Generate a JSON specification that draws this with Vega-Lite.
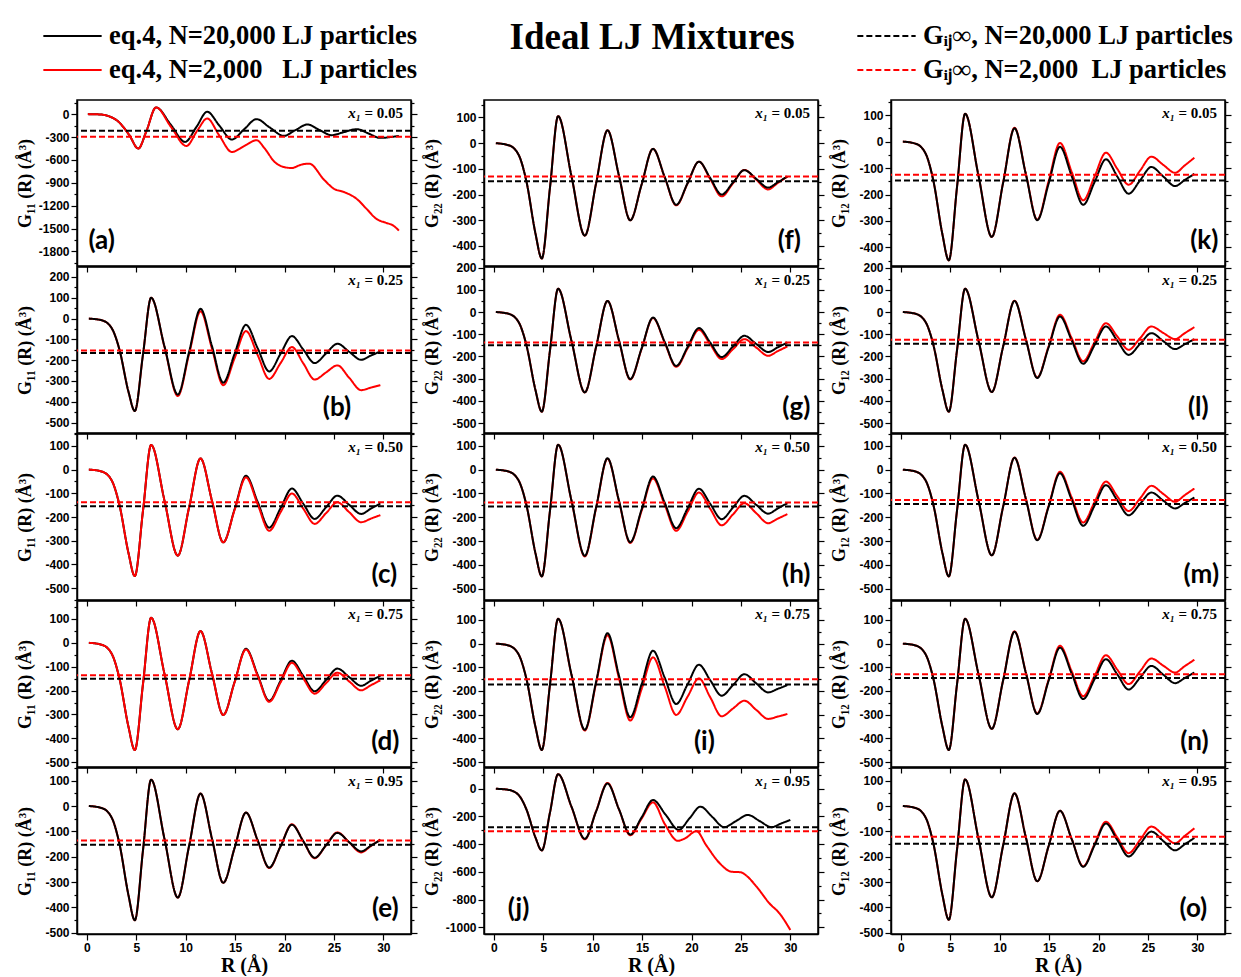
{
"$schema":"https://vega.github.io/schema/vega-lite/v6.json",
"padding":{"left":15,"top":19,"right":5,"bottom":0},
"title":{"text":"Ideal LJ Mixtures","font":"Liberation Serif","fontSize":37,"fontWeight":"bold","color":"black","anchor":"middle","frame":"bounds","offset":20,"dy":56,"dx":28},
"data":{"values":[
{"p":"a","s":"a1","R":0.1,"G":0},{"p":"a","s":"a1","R":1.3,"G":-4},{"p":"a","s":"a1","R":3,"G":-79},{"p":"a","s":"a1","R":4.3,"G":-276},{"p":"a","s":"a1","R":5.2,"G":-452},{"p":"a","s":"a1","R":6,"G":-232},{"p":"a","s":"a1","R":7,"G":88},{"p":"a","s":"a1","R":8.5,"G":-140},{"p":"a","s":"a1","R":9.93,"G":-364},{"p":"a","s":"a1","R":11.1,"G":-165},{"p":"a","s":"a1","R":12.17,"G":31},{"p":"a","s":"a1","R":13.4,"G":-150},{"p":"a","s":"a1","R":14.67,"G":-333},{"p":"a","s":"a1","R":15.9,"G":-200},{"p":"a","s":"a1","R":17.17,"G":-66},{"p":"a","s":"a1","R":18.5,"G":-175},{"p":"a","s":"a1","R":19.93,"G":-285},{"p":"a","s":"a1","R":21.1,"G":-210},{"p":"a","s":"a1","R":22.33,"G":-136},{"p":"a","s":"a1","R":23.5,"G":-206},{"p":"a","s":"a1","R":24.77,"G":-276},{"p":"a","s":"a1","R":26,"G":-236},{"p":"a","s":"a1","R":27.33,"G":-197},{"p":"a","s":"a1","R":28.5,"G":-254},{"p":"a","s":"a1","R":29.67,"G":-311},{"p":"a","s":"a1","R":31.57,"G":-285},
{"p":"a","s":"b1","R":0.1,"G":0},{"p":"a","s":"b1","R":1.3,"G":-4},{"p":"a","s":"b1","R":3,"G":-79},{"p":"a","s":"b1","R":4.3,"G":-276},{"p":"a","s":"b1","R":5.2,"G":-452},{"p":"a","s":"b1","R":6,"G":-232},{"p":"a","s":"b1","R":7,"G":88},{"p":"a","s":"b1","R":8.5,"G":-165},{"p":"a","s":"b1","R":10.07,"G":-417},{"p":"a","s":"b1","R":11.2,"G":-210},{"p":"a","s":"b1","R":12.17,"G":-57},{"p":"a","s":"b1","R":13.4,"G":-280},{"p":"a","s":"b1","R":14.67,"G":-496},{"p":"a","s":"b1","R":15.9,"G":-420},{"p":"a","s":"b1","R":17.17,"G":-342},{"p":"a","s":"b1","R":18,"G":-452},{"p":"a","s":"b1","R":19,"G":-627},{"p":"a","s":"b1","R":19.93,"G":-693},{"p":"a","s":"b1","R":20.7,"G":-706},{"p":"a","s":"b1","R":21.7,"G":-662},{"p":"a","s":"b1","R":22.5,"G":-649},{"p":"a","s":"b1","R":24,"G":-860},{"p":"a","s":"b1","R":25,"G":-978},{"p":"a","s":"b1","R":26,"G":-1020},{"p":"a","s":"b1","R":27.3,"G":-1110},{"p":"a","s":"b1","R":28.3,"G":-1241},{"p":"a","s":"b1","R":29.3,"G":-1373},{"p":"a","s":"b1","R":30.3,"G":-1425},{"p":"a","s":"b1","R":31,"G":-1460},{"p":"a","s":"b1","R":31.57,"G":-1526},
{"p":"b","s":"a1","R":0.2,"G":0},{"p":"b","s":"a1","R":1.5,"G":-8},{"p":"b","s":"a1","R":2.5,"G":-45},{"p":"b","s":"a1","R":3.3,"G":-150},{"p":"b","s":"a1","R":4.2,"G":-350},{"p":"b","s":"a1","R":4.85,"G":-444},{"p":"b","s":"a1","R":5.68,"G":-172},{"p":"b","s":"a1","R":6.5,"G":100},{"p":"b","s":"a1","R":7.85,"G":-133},{"p":"b","s":"a1","R":9.2,"G":-365},{"p":"b","s":"a1","R":10.35,"G":-159},{"p":"b","s":"a1","R":11.5,"G":47},{"p":"b","s":"a1","R":12.65,"G":-131},{"p":"b","s":"a1","R":13.8,"G":-308},{"p":"b","s":"a1","R":14.95,"G":-169},{"p":"b","s":"a1","R":16.1,"G":-30},{"p":"b","s":"a1","R":17.28,"G":-142},{"p":"b","s":"a1","R":18.45,"G":-254},{"p":"b","s":"a1","R":19.6,"G":-169},{"p":"b","s":"a1","R":20.75,"G":-84},{"p":"b","s":"a1","R":21.9,"G":-149},{"p":"b","s":"a1","R":23.05,"G":-214},{"p":"b","s":"a1","R":24.2,"G":-168},{"p":"b","s":"a1","R":25.35,"G":-121},{"p":"b","s":"a1","R":26.55,"G":-160},{"p":"b","s":"a1","R":27.75,"G":-198},{"p":"b","s":"a1","R":28.73,"G":-178},{"p":"b","s":"a1","R":29.7,"G":-158},
{"p":"b","s":"b1","R":0.2,"G":0},{"p":"b","s":"b1","R":1.5,"G":-8},{"p":"b","s":"b1","R":2.5,"G":-45},{"p":"b","s":"b1","R":3.3,"G":-150},{"p":"b","s":"b1","R":4.2,"G":-350},{"p":"b","s":"b1","R":4.85,"G":-444},{"p":"b","s":"b1","R":5.68,"G":-172},{"p":"b","s":"b1","R":6.5,"G":100},{"p":"b","s":"b1","R":7.85,"G":-136},{"p":"b","s":"b1","R":9.2,"G":-372},{"p":"b","s":"b1","R":10.35,"G":-169},{"p":"b","s":"b1","R":11.5,"G":35},{"p":"b","s":"b1","R":12.65,"G":-143},{"p":"b","s":"b1","R":13.8,"G":-320},{"p":"b","s":"b1","R":14.95,"G":-190},{"p":"b","s":"b1","R":16.1,"G":-60},{"p":"b","s":"b1","R":17.28,"G":-175},{"p":"b","s":"b1","R":18.45,"G":-290},{"p":"b","s":"b1","R":19.6,"G":-214},{"p":"b","s":"b1","R":20.75,"G":-137},{"p":"b","s":"b1","R":21.9,"G":-215},{"p":"b","s":"b1","R":23.05,"G":-293},{"p":"b","s":"b1","R":24.2,"G":-259},{"p":"b","s":"b1","R":25.35,"G":-225},{"p":"b","s":"b1","R":26.55,"G":-285},{"p":"b","s":"b1","R":27.75,"G":-344},{"p":"b","s":"b1","R":28.73,"G":-332},{"p":"b","s":"b1","R":29.7,"G":-320},
{"p":"c","s":"a1","R":0.2,"G":0},{"p":"c","s":"a1","R":1.5,"G":-8},{"p":"c","s":"a1","R":2.5,"G":-45},{"p":"c","s":"a1","R":3.3,"G":-150},{"p":"c","s":"a1","R":4.2,"G":-350},{"p":"c","s":"a1","R":4.85,"G":-449},{"p":"c","s":"a1","R":5.68,"G":-173},{"p":"c","s":"a1","R":6.5,"G":104},{"p":"c","s":"a1","R":7.85,"G":-130},{"p":"c","s":"a1","R":9.2,"G":-363},{"p":"c","s":"a1","R":10.35,"G":-158},{"p":"c","s":"a1","R":11.5,"G":47},{"p":"c","s":"a1","R":12.65,"G":-130},{"p":"c","s":"a1","R":13.8,"G":-307},{"p":"c","s":"a1","R":14.95,"G":-167},{"p":"c","s":"a1","R":16.1,"G":-26},{"p":"c","s":"a1","R":17.28,"G":-136},{"p":"c","s":"a1","R":18.45,"G":-245},{"p":"c","s":"a1","R":19.6,"G":-163},{"p":"c","s":"a1","R":20.75,"G":-80},{"p":"c","s":"a1","R":21.9,"G":-144},{"p":"c","s":"a1","R":23.05,"G":-208},{"p":"c","s":"a1","R":24.2,"G":-159},{"p":"c","s":"a1","R":25.35,"G":-110},{"p":"c","s":"a1","R":26.55,"G":-149},{"p":"c","s":"a1","R":27.75,"G":-187},{"p":"c","s":"a1","R":28.73,"G":-165},{"p":"c","s":"a1","R":29.7,"G":-143},
{"p":"c","s":"b1","R":0.2,"G":0},{"p":"c","s":"b1","R":1.5,"G":-8},{"p":"c","s":"b1","R":2.5,"G":-45},{"p":"c","s":"b1","R":3.3,"G":-150},{"p":"c","s":"b1","R":4.2,"G":-350},{"p":"c","s":"b1","R":4.85,"G":-449},{"p":"c","s":"b1","R":5.68,"G":-173},{"p":"c","s":"b1","R":6.5,"G":104},{"p":"c","s":"b1","R":7.85,"G":-130},{"p":"c","s":"b1","R":9.2,"G":-363},{"p":"c","s":"b1","R":10.35,"G":-158},{"p":"c","s":"b1","R":11.5,"G":47},{"p":"c","s":"b1","R":12.65,"G":-130},{"p":"c","s":"b1","R":13.8,"G":-307},{"p":"c","s":"b1","R":14.95,"G":-170},{"p":"c","s":"b1","R":16.1,"G":-33},{"p":"c","s":"b1","R":17.28,"G":-146},{"p":"c","s":"b1","R":18.45,"G":-258},{"p":"c","s":"b1","R":19.6,"G":-180},{"p":"c","s":"b1","R":20.75,"G":-101},{"p":"c","s":"b1","R":21.9,"G":-165},{"p":"c","s":"b1","R":23.05,"G":-229},{"p":"c","s":"b1","R":24.2,"G":-184},{"p":"c","s":"b1","R":25.35,"G":-138},{"p":"c","s":"b1","R":26.55,"G":-180},{"p":"c","s":"b1","R":27.75,"G":-222},{"p":"c","s":"b1","R":28.73,"G":-207},{"p":"c","s":"b1","R":29.7,"G":-192},
{"p":"d","s":"a1","R":0.2,"G":0},{"p":"d","s":"a1","R":1.5,"G":-8},{"p":"d","s":"a1","R":2.5,"G":-45},{"p":"d","s":"a1","R":3.3,"G":-150},{"p":"d","s":"a1","R":4.2,"G":-350},{"p":"d","s":"a1","R":4.85,"G":-449},{"p":"d","s":"a1","R":5.68,"G":-172},{"p":"d","s":"a1","R":6.5,"G":105},{"p":"d","s":"a1","R":7.85,"G":-129},{"p":"d","s":"a1","R":9.2,"G":-362},{"p":"d","s":"a1","R":10.35,"G":-157},{"p":"d","s":"a1","R":11.5,"G":49},{"p":"d","s":"a1","R":12.65,"G":-127},{"p":"d","s":"a1","R":13.8,"G":-302},{"p":"d","s":"a1","R":14.95,"G":-164},{"p":"d","s":"a1","R":16.1,"G":-25},{"p":"d","s":"a1","R":17.28,"G":-134},{"p":"d","s":"a1","R":18.45,"G":-243},{"p":"d","s":"a1","R":19.6,"G":-159},{"p":"d","s":"a1","R":20.75,"G":-75},{"p":"d","s":"a1","R":21.9,"G":-139},{"p":"d","s":"a1","R":23.05,"G":-203},{"p":"d","s":"a1","R":24.2,"G":-156},{"p":"d","s":"a1","R":25.35,"G":-108},{"p":"d","s":"a1","R":26.55,"G":-144},{"p":"d","s":"a1","R":27.75,"G":-180},{"p":"d","s":"a1","R":28.73,"G":-159},{"p":"d","s":"a1","R":29.7,"G":-138},
{"p":"d","s":"b1","R":0.2,"G":0},{"p":"d","s":"b1","R":1.5,"G":-8},{"p":"d","s":"b1","R":2.5,"G":-45},{"p":"d","s":"b1","R":3.3,"G":-150},{"p":"d","s":"b1","R":4.2,"G":-350},{"p":"d","s":"b1","R":4.85,"G":-449},{"p":"d","s":"b1","R":5.68,"G":-172},{"p":"d","s":"b1","R":6.5,"G":105},{"p":"d","s":"b1","R":7.85,"G":-129},{"p":"d","s":"b1","R":9.2,"G":-362},{"p":"d","s":"b1","R":10.35,"G":-157},{"p":"d","s":"b1","R":11.5,"G":49},{"p":"d","s":"b1","R":12.65,"G":-127},{"p":"d","s":"b1","R":13.8,"G":-302},{"p":"d","s":"b1","R":14.95,"G":-165},{"p":"d","s":"b1","R":16.1,"G":-28},{"p":"d","s":"b1","R":17.28,"G":-138},{"p":"d","s":"b1","R":18.45,"G":-247},{"p":"d","s":"b1","R":19.6,"G":-166},{"p":"d","s":"b1","R":20.75,"G":-84},{"p":"d","s":"b1","R":21.9,"G":-149},{"p":"d","s":"b1","R":23.05,"G":-213},{"p":"d","s":"b1","R":24.2,"G":-169},{"p":"d","s":"b1","R":25.35,"G":-125},{"p":"d","s":"b1","R":26.55,"G":-162},{"p":"d","s":"b1","R":27.75,"G":-199},{"p":"d","s":"b1","R":28.73,"G":-178},{"p":"d","s":"b1","R":29.7,"G":-157},
{"p":"e","s":"a1","R":0.2,"G":0},{"p":"e","s":"a1","R":1.5,"G":-8},{"p":"e","s":"a1","R":2.5,"G":-45},{"p":"e","s":"a1","R":3.3,"G":-150},{"p":"e","s":"a1","R":4.2,"G":-350},{"p":"e","s":"a1","R":4.85,"G":-451},{"p":"e","s":"a1","R":5.68,"G":-174},{"p":"e","s":"a1","R":6.5,"G":104},{"p":"e","s":"a1","R":7.85,"G":-129},{"p":"e","s":"a1","R":9.2,"G":-361},{"p":"e","s":"a1","R":10.35,"G":-156},{"p":"e","s":"a1","R":11.5,"G":49},{"p":"e","s":"a1","R":12.65,"G":-127},{"p":"e","s":"a1","R":13.8,"G":-303},{"p":"e","s":"a1","R":14.95,"G":-165},{"p":"e","s":"a1","R":16.1,"G":-26},{"p":"e","s":"a1","R":17.28,"G":-135},{"p":"e","s":"a1","R":18.45,"G":-243},{"p":"e","s":"a1","R":19.6,"G":-159},{"p":"e","s":"a1","R":20.75,"G":-74},{"p":"e","s":"a1","R":21.9,"G":-139},{"p":"e","s":"a1","R":23.05,"G":-204},{"p":"e","s":"a1","R":24.2,"G":-155},{"p":"e","s":"a1","R":25.35,"G":-106},{"p":"e","s":"a1","R":26.55,"G":-143},{"p":"e","s":"a1","R":27.75,"G":-179},{"p":"e","s":"a1","R":28.73,"G":-157},{"p":"e","s":"a1","R":29.7,"G":-134},
{"p":"e","s":"b1","R":0.2,"G":0},{"p":"e","s":"b1","R":1.5,"G":-8},{"p":"e","s":"b1","R":2.5,"G":-45},{"p":"e","s":"b1","R":3.3,"G":-150},{"p":"e","s":"b1","R":4.2,"G":-350},{"p":"e","s":"b1","R":4.85,"G":-451},{"p":"e","s":"b1","R":5.68,"G":-174},{"p":"e","s":"b1","R":6.5,"G":104},{"p":"e","s":"b1","R":7.85,"G":-129},{"p":"e","s":"b1","R":9.2,"G":-361},{"p":"e","s":"b1","R":10.35,"G":-156},{"p":"e","s":"b1","R":11.5,"G":49},{"p":"e","s":"b1","R":12.65,"G":-127},{"p":"e","s":"b1","R":13.8,"G":-303},{"p":"e","s":"b1","R":14.95,"G":-165},{"p":"e","s":"b1","R":16.1,"G":-26},{"p":"e","s":"b1","R":17.28,"G":-136},{"p":"e","s":"b1","R":18.45,"G":-245},{"p":"e","s":"b1","R":19.6,"G":-159},{"p":"e","s":"b1","R":20.75,"G":-72},{"p":"e","s":"b1","R":21.9,"G":-139},{"p":"e","s":"b1","R":23.05,"G":-206},{"p":"e","s":"b1","R":24.2,"G":-155},{"p":"e","s":"b1","R":25.35,"G":-104},{"p":"e","s":"b1","R":26.55,"G":-144},{"p":"e","s":"b1","R":27.75,"G":-183},{"p":"e","s":"b1","R":28.73,"G":-158},{"p":"e","s":"b1","R":29.7,"G":-132},
{"p":"f","s":"a1","R":0.2,"G":0},{"p":"f","s":"a1","R":1.5,"G":-8},{"p":"f","s":"a1","R":2.5,"G":-45},{"p":"f","s":"a1","R":3.3,"G":-150},{"p":"f","s":"a1","R":4.2,"G":-350},{"p":"f","s":"a1","R":4.85,"G":-449},{"p":"f","s":"a1","R":5.68,"G":-172},{"p":"f","s":"a1","R":6.5,"G":105},{"p":"f","s":"a1","R":7.85,"G":-128},{"p":"f","s":"a1","R":9.2,"G":-360},{"p":"f","s":"a1","R":10.35,"G":-155},{"p":"f","s":"a1","R":11.5,"G":50},{"p":"f","s":"a1","R":12.65,"G":-125},{"p":"f","s":"a1","R":13.8,"G":-300},{"p":"f","s":"a1","R":14.95,"G":-161},{"p":"f","s":"a1","R":16.1,"G":-22},{"p":"f","s":"a1","R":17.28,"G":-131},{"p":"f","s":"a1","R":18.45,"G":-240},{"p":"f","s":"a1","R":19.6,"G":-156},{"p":"f","s":"a1","R":20.75,"G":-72},{"p":"f","s":"a1","R":21.9,"G":-136},{"p":"f","s":"a1","R":23.05,"G":-200},{"p":"f","s":"a1","R":24.2,"G":-153},{"p":"f","s":"a1","R":25.35,"G":-105},{"p":"f","s":"a1","R":26.55,"G":-139},{"p":"f","s":"a1","R":27.75,"G":-173},{"p":"f","s":"a1","R":28.73,"G":-152},{"p":"f","s":"a1","R":29.7,"G":-130},
{"p":"f","s":"b1","R":0.2,"G":0},{"p":"f","s":"b1","R":1.5,"G":-8},{"p":"f","s":"b1","R":2.5,"G":-45},{"p":"f","s":"b1","R":3.3,"G":-150},{"p":"f","s":"b1","R":4.2,"G":-350},{"p":"f","s":"b1","R":4.85,"G":-449},{"p":"f","s":"b1","R":5.68,"G":-172},{"p":"f","s":"b1","R":6.5,"G":105},{"p":"f","s":"b1","R":7.85,"G":-128},{"p":"f","s":"b1","R":9.2,"G":-360},{"p":"f","s":"b1","R":10.35,"G":-155},{"p":"f","s":"b1","R":11.5,"G":50},{"p":"f","s":"b1","R":12.65,"G":-125},{"p":"f","s":"b1","R":13.8,"G":-300},{"p":"f","s":"b1","R":14.95,"G":-161},{"p":"f","s":"b1","R":16.1,"G":-22},{"p":"f","s":"b1","R":17.28,"G":-132},{"p":"f","s":"b1","R":18.45,"G":-242},{"p":"f","s":"b1","R":19.6,"G":-157},{"p":"f","s":"b1","R":20.75,"G":-72},{"p":"f","s":"b1","R":21.9,"G":-140},{"p":"f","s":"b1","R":23.05,"G":-207},{"p":"f","s":"b1","R":24.2,"G":-156},{"p":"f","s":"b1","R":25.35,"G":-104},{"p":"f","s":"b1","R":26.55,"G":-142},{"p":"f","s":"b1","R":27.75,"G":-180},{"p":"f","s":"b1","R":28.73,"G":-155},{"p":"f","s":"b1","R":29.7,"G":-130},
{"p":"g","s":"a1","R":0.2,"G":0},{"p":"g","s":"a1","R":1.5,"G":-8},{"p":"g","s":"a1","R":2.5,"G":-45},{"p":"g","s":"a1","R":3.3,"G":-150},{"p":"g","s":"a1","R":4.2,"G":-350},{"p":"g","s":"a1","R":4.85,"G":-449},{"p":"g","s":"a1","R":5.68,"G":-172},{"p":"g","s":"a1","R":6.5,"G":105},{"p":"g","s":"a1","R":7.85,"G":-129},{"p":"g","s":"a1","R":9.2,"G":-362},{"p":"g","s":"a1","R":10.35,"G":-156},{"p":"g","s":"a1","R":11.5,"G":50},{"p":"g","s":"a1","R":12.65,"G":-126},{"p":"g","s":"a1","R":13.8,"G":-302},{"p":"g","s":"a1","R":14.95,"G":-164},{"p":"g","s":"a1","R":16.1,"G":-25},{"p":"g","s":"a1","R":17.28,"G":-134},{"p":"g","s":"a1","R":18.45,"G":-243},{"p":"g","s":"a1","R":19.6,"G":-158},{"p":"g","s":"a1","R":20.75,"G":-72},{"p":"g","s":"a1","R":21.9,"G":-138},{"p":"g","s":"a1","R":23.05,"G":-203},{"p":"g","s":"a1","R":24.2,"G":-155},{"p":"g","s":"a1","R":25.35,"G":-107},{"p":"g","s":"a1","R":26.55,"G":-144},{"p":"g","s":"a1","R":27.75,"G":-180},{"p":"g","s":"a1","R":28.73,"G":-159},{"p":"g","s":"a1","R":29.7,"G":-137},
{"p":"g","s":"b1","R":0.2,"G":0},{"p":"g","s":"b1","R":1.5,"G":-8},{"p":"g","s":"b1","R":2.5,"G":-45},{"p":"g","s":"b1","R":3.3,"G":-150},{"p":"g","s":"b1","R":4.2,"G":-350},{"p":"g","s":"b1","R":4.85,"G":-449},{"p":"g","s":"b1","R":5.68,"G":-172},{"p":"g","s":"b1","R":6.5,"G":105},{"p":"g","s":"b1","R":7.85,"G":-129},{"p":"g","s":"b1","R":9.2,"G":-362},{"p":"g","s":"b1","R":10.35,"G":-156},{"p":"g","s":"b1","R":11.5,"G":50},{"p":"g","s":"b1","R":12.65,"G":-127},{"p":"g","s":"b1","R":13.8,"G":-304},{"p":"g","s":"b1","R":14.95,"G":-166},{"p":"g","s":"b1","R":16.1,"G":-27},{"p":"g","s":"b1","R":17.28,"G":-137},{"p":"g","s":"b1","R":18.45,"G":-247},{"p":"g","s":"b1","R":19.6,"G":-164},{"p":"g","s":"b1","R":20.75,"G":-80},{"p":"g","s":"b1","R":21.9,"G":-146},{"p":"g","s":"b1","R":23.05,"G":-212},{"p":"g","s":"b1","R":24.2,"G":-167},{"p":"g","s":"b1","R":25.35,"G":-122},{"p":"g","s":"b1","R":26.55,"G":-160},{"p":"g","s":"b1","R":27.75,"G":-197},{"p":"g","s":"b1","R":28.73,"G":-176},{"p":"g","s":"b1","R":29.7,"G":-155},
{"p":"h","s":"a1","R":0.2,"G":0},{"p":"h","s":"a1","R":1.5,"G":-8},{"p":"h","s":"a1","R":2.5,"G":-45},{"p":"h","s":"a1","R":3.3,"G":-150},{"p":"h","s":"a1","R":4.2,"G":-350},{"p":"h","s":"a1","R":4.85,"G":-449},{"p":"h","s":"a1","R":5.68,"G":-172},{"p":"h","s":"a1","R":6.5,"G":105},{"p":"h","s":"a1","R":7.85,"G":-129},{"p":"h","s":"a1","R":9.2,"G":-362},{"p":"h","s":"a1","R":10.35,"G":-157},{"p":"h","s":"a1","R":11.5,"G":48},{"p":"h","s":"a1","R":12.65,"G":-129},{"p":"h","s":"a1","R":13.8,"G":-305},{"p":"h","s":"a1","R":14.95,"G":-167},{"p":"h","s":"a1","R":16.1,"G":-29},{"p":"h","s":"a1","R":17.28,"G":-138},{"p":"h","s":"a1","R":18.45,"G":-246},{"p":"h","s":"a1","R":19.6,"G":-163},{"p":"h","s":"a1","R":20.75,"G":-80},{"p":"h","s":"a1","R":21.9,"G":-144},{"p":"h","s":"a1","R":23.05,"G":-208},{"p":"h","s":"a1","R":24.2,"G":-159},{"p":"h","s":"a1","R":25.35,"G":-110},{"p":"h","s":"a1","R":26.55,"G":-148},{"p":"h","s":"a1","R":27.75,"G":-185},{"p":"h","s":"a1","R":28.73,"G":-163},{"p":"h","s":"a1","R":29.7,"G":-141},
{"p":"h","s":"b1","R":0.2,"G":0},{"p":"h","s":"b1","R":1.5,"G":-8},{"p":"h","s":"b1","R":2.5,"G":-45},{"p":"h","s":"b1","R":3.3,"G":-150},{"p":"h","s":"b1","R":4.2,"G":-350},{"p":"h","s":"b1","R":4.85,"G":-449},{"p":"h","s":"b1","R":5.68,"G":-172},{"p":"h","s":"b1","R":6.5,"G":105},{"p":"h","s":"b1","R":7.85,"G":-130},{"p":"h","s":"b1","R":9.2,"G":-365},{"p":"h","s":"b1","R":10.35,"G":-160},{"p":"h","s":"b1","R":11.5,"G":46},{"p":"h","s":"b1","R":12.65,"G":-131},{"p":"h","s":"b1","R":13.8,"G":-308},{"p":"h","s":"b1","R":14.95,"G":-173},{"p":"h","s":"b1","R":16.1,"G":-37},{"p":"h","s":"b1","R":17.28,"G":-147},{"p":"h","s":"b1","R":18.45,"G":-257},{"p":"h","s":"b1","R":19.6,"G":-177},{"p":"h","s":"b1","R":20.75,"G":-96},{"p":"h","s":"b1","R":21.9,"G":-165},{"p":"h","s":"b1","R":23.05,"G":-234},{"p":"h","s":"b1","R":24.2,"G":-188},{"p":"h","s":"b1","R":25.35,"G":-141},{"p":"h","s":"b1","R":26.55,"G":-183},{"p":"h","s":"b1","R":27.75,"G":-225},{"p":"h","s":"b1","R":28.73,"G":-206},{"p":"h","s":"b1","R":29.7,"G":-187},
{"p":"i","s":"a1","R":0.2,"G":0},{"p":"i","s":"a1","R":1.5,"G":-8},{"p":"i","s":"a1","R":2.5,"G":-45},{"p":"i","s":"a1","R":3.3,"G":-150},{"p":"i","s":"a1","R":4.2,"G":-350},{"p":"i","s":"a1","R":4.85,"G":-449},{"p":"i","s":"a1","R":5.68,"G":-172},{"p":"i","s":"a1","R":6.5,"G":105},{"p":"i","s":"a1","R":7.85,"G":-130},{"p":"i","s":"a1","R":9.2,"G":-364},{"p":"i","s":"a1","R":10.35,"G":-160},{"p":"i","s":"a1","R":11.5,"G":44},{"p":"i","s":"a1","R":12.65,"G":-134},{"p":"i","s":"a1","R":13.8,"G":-311},{"p":"i","s":"a1","R":14.95,"G":-171},{"p":"i","s":"a1","R":16.1,"G":-30},{"p":"i","s":"a1","R":17.28,"G":-143},{"p":"i","s":"a1","R":18.45,"G":-255},{"p":"i","s":"a1","R":19.6,"G":-172},{"p":"i","s":"a1","R":20.75,"G":-89},{"p":"i","s":"a1","R":21.9,"G":-155},{"p":"i","s":"a1","R":23.05,"G":-220},{"p":"i","s":"a1","R":24.2,"G":-175},{"p":"i","s":"a1","R":25.35,"G":-129},{"p":"i","s":"a1","R":26.55,"G":-168},{"p":"i","s":"a1","R":27.75,"G":-206},{"p":"i","s":"a1","R":28.73,"G":-191},{"p":"i","s":"a1","R":29.7,"G":-175},
{"p":"i","s":"b1","R":0.2,"G":0},{"p":"i","s":"b1","R":1.5,"G":-8},{"p":"i","s":"b1","R":2.5,"G":-45},{"p":"i","s":"b1","R":3.3,"G":-150},{"p":"i","s":"b1","R":4.2,"G":-350},{"p":"i","s":"b1","R":4.85,"G":-449},{"p":"i","s":"b1","R":5.68,"G":-172},{"p":"i","s":"b1","R":6.5,"G":105},{"p":"i","s":"b1","R":7.85,"G":-131},{"p":"i","s":"b1","R":9.2,"G":-367},{"p":"i","s":"b1","R":10.35,"G":-166},{"p":"i","s":"b1","R":11.5,"G":35},{"p":"i","s":"b1","R":12.65,"G":-145},{"p":"i","s":"b1","R":13.8,"G":-325},{"p":"i","s":"b1","R":14.95,"G":-192},{"p":"i","s":"b1","R":16.1,"G":-58},{"p":"i","s":"b1","R":17.28,"G":-180},{"p":"i","s":"b1","R":18.45,"G":-301},{"p":"i","s":"b1","R":19.6,"G":-224},{"p":"i","s":"b1","R":20.75,"G":-147},{"p":"i","s":"b1","R":21.9,"G":-227},{"p":"i","s":"b1","R":23.05,"G":-307},{"p":"i","s":"b1","R":24.2,"G":-274},{"p":"i","s":"b1","R":25.35,"G":-241},{"p":"i","s":"b1","R":26.55,"G":-280},{"p":"i","s":"b1","R":27.75,"G":-318},{"p":"i","s":"b1","R":28.73,"G":-308},{"p":"i","s":"b1","R":29.7,"G":-297},
{"p":"j","s":"a1","R":0.2,"G":0},{"p":"j","s":"a1","R":1.5,"G":-8},{"p":"j","s":"a1","R":2.5,"G":-45},{"p":"j","s":"a1","R":3.3,"G":-150},{"p":"j","s":"a1","R":4.2,"G":-350},{"p":"j","s":"a1","R":4.85,"G":-445},{"p":"j","s":"a1","R":5.68,"G":-170},{"p":"j","s":"a1","R":6.5,"G":105},{"p":"j","s":"a1","R":7.85,"G":-128},{"p":"j","s":"a1","R":9.2,"G":-361},{"p":"j","s":"a1","R":10.35,"G":-162},{"p":"j","s":"a1","R":11.5,"G":38},{"p":"j","s":"a1","R":12.65,"G":-146},{"p":"j","s":"a1","R":13.8,"G":-330},{"p":"j","s":"a1","R":14.95,"G":-206},{"p":"j","s":"a1","R":16.1,"G":-81},{"p":"j","s":"a1","R":17.4,"G":-189},{"p":"j","s":"a1","R":18.7,"G":-297},{"p":"j","s":"a1","R":19.8,"G":-213},{"p":"j","s":"a1","R":20.9,"G":-129},{"p":"j","s":"a1","R":22.1,"G":-203},{"p":"j","s":"a1","R":23.3,"G":-277},{"p":"j","s":"a1","R":24.5,"G":-233},{"p":"j","s":"a1","R":25.7,"G":-189},{"p":"j","s":"a1","R":26.9,"G":-233},{"p":"j","s":"a1","R":28.1,"G":-277},{"p":"j","s":"a1","R":29.05,"G":-251},{"p":"j","s":"a1","R":30,"G":-225},
{"p":"j","s":"b1","R":0.2,"G":0},{"p":"j","s":"b1","R":1.5,"G":-8},{"p":"j","s":"b1","R":2.5,"G":-45},{"p":"j","s":"b1","R":3.3,"G":-150},{"p":"j","s":"b1","R":4.2,"G":-350},{"p":"j","s":"b1","R":4.85,"G":-445},{"p":"j","s":"b1","R":5.68,"G":-170},{"p":"j","s":"b1","R":6.5,"G":105},{"p":"j","s":"b1","R":7.85,"G":-130},{"p":"j","s":"b1","R":9.2,"G":-365},{"p":"j","s":"b1","R":10.35,"G":-160},{"p":"j","s":"b1","R":11.5,"G":42},{"p":"j","s":"b1","R":12.65,"G":-147},{"p":"j","s":"b1","R":13.8,"G":-335},{"p":"j","s":"b1","R":14.95,"G":-215},{"p":"j","s":"b1","R":16.1,"G":-98},{"p":"j","s":"b1","R":17.3,"G":-255},{"p":"j","s":"b1","R":18.6,"G":-375},{"p":"j","s":"b1","R":19.3,"G":-360},{"p":"j","s":"b1","R":20.5,"G":-306},{"p":"j","s":"b1","R":21.5,"G":-409},{"p":"j","s":"b1","R":22.9,"G":-541},{"p":"j","s":"b1","R":24,"G":-598},{"p":"j","s":"b1","R":25,"G":-603},{"p":"j","s":"b1","R":25.6,"G":-630},{"p":"j","s":"b1","R":26.6,"G":-708},{"p":"j","s":"b1","R":27.9,"G":-828},{"p":"j","s":"b1","R":28.9,"G":-899},{"p":"j","s":"b1","R":30,"G":-1019},
{"p":"k","s":"a1","R":0.2,"G":0},{"p":"k","s":"a1","R":1.5,"G":-8},{"p":"k","s":"a1","R":2.5,"G":-45},{"p":"k","s":"a1","R":3.3,"G":-150},{"p":"k","s":"a1","R":4.2,"G":-350},{"p":"k","s":"a1","R":4.85,"G":-449},{"p":"k","s":"a1","R":5.68,"G":-172},{"p":"k","s":"a1","R":6.5,"G":105},{"p":"k","s":"a1","R":7.85,"G":-128},{"p":"k","s":"a1","R":9.2,"G":-360},{"p":"k","s":"a1","R":10.35,"G":-155},{"p":"k","s":"a1","R":11.5,"G":50},{"p":"k","s":"a1","R":12.65,"G":-124},{"p":"k","s":"a1","R":13.8,"G":-297},{"p":"k","s":"a1","R":14.95,"G":-159},{"p":"k","s":"a1","R":16.1,"G":-20},{"p":"k","s":"a1","R":17.28,"G":-130},{"p":"k","s":"a1","R":18.45,"G":-239},{"p":"k","s":"a1","R":19.6,"G":-153},{"p":"k","s":"a1","R":20.75,"G":-67},{"p":"k","s":"a1","R":21.9,"G":-132},{"p":"k","s":"a1","R":23.05,"G":-197},{"p":"k","s":"a1","R":24.2,"G":-147},{"p":"k","s":"a1","R":25.35,"G":-96},{"p":"k","s":"a1","R":26.55,"G":-132},{"p":"k","s":"a1","R":27.75,"G":-168},{"p":"k","s":"a1","R":28.73,"G":-145},{"p":"k","s":"a1","R":29.7,"G":-122},
{"p":"k","s":"b1","R":0.2,"G":0},{"p":"k","s":"b1","R":1.5,"G":-8},{"p":"k","s":"b1","R":2.5,"G":-45},{"p":"k","s":"b1","R":3.3,"G":-150},{"p":"k","s":"b1","R":4.2,"G":-350},{"p":"k","s":"b1","R":4.85,"G":-449},{"p":"k","s":"b1","R":5.68,"G":-172},{"p":"k","s":"b1","R":6.5,"G":105},{"p":"k","s":"b1","R":7.85,"G":-128},{"p":"k","s":"b1","R":9.2,"G":-360},{"p":"k","s":"b1","R":10.35,"G":-154},{"p":"k","s":"b1","R":11.5,"G":52},{"p":"k","s":"b1","R":12.65,"G":-122},{"p":"k","s":"b1","R":13.8,"G":-295},{"p":"k","s":"b1","R":14.95,"G":-150},{"p":"k","s":"b1","R":16.1,"G":-5},{"p":"k","s":"b1","R":17.28,"G":-114},{"p":"k","s":"b1","R":18.45,"G":-222},{"p":"k","s":"b1","R":19.6,"G":-132},{"p":"k","s":"b1","R":20.75,"G":-42},{"p":"k","s":"b1","R":21.9,"G":-103},{"p":"k","s":"b1","R":23.05,"G":-163},{"p":"k","s":"b1","R":24.2,"G":-110},{"p":"k","s":"b1","R":25.35,"G":-57},{"p":"k","s":"b1","R":26.55,"G":-88},{"p":"k","s":"b1","R":27.75,"G":-118},{"p":"k","s":"b1","R":28.73,"G":-90},{"p":"k","s":"b1","R":29.7,"G":-61},
{"p":"l","s":"a1","R":0.2,"G":0},{"p":"l","s":"a1","R":1.5,"G":-8},{"p":"l","s":"a1","R":2.5,"G":-45},{"p":"l","s":"a1","R":3.3,"G":-150},{"p":"l","s":"a1","R":4.2,"G":-350},{"p":"l","s":"a1","R":4.85,"G":-449},{"p":"l","s":"a1","R":5.68,"G":-172},{"p":"l","s":"a1","R":6.5,"G":105},{"p":"l","s":"a1","R":7.85,"G":-128},{"p":"l","s":"a1","R":9.2,"G":-360},{"p":"l","s":"a1","R":10.35,"G":-155},{"p":"l","s":"a1","R":11.5,"G":50},{"p":"l","s":"a1","R":12.65,"G":-124},{"p":"l","s":"a1","R":13.8,"G":-297},{"p":"l","s":"a1","R":14.95,"G":-159},{"p":"l","s":"a1","R":16.1,"G":-20},{"p":"l","s":"a1","R":17.28,"G":-127},{"p":"l","s":"a1","R":18.45,"G":-233},{"p":"l","s":"a1","R":19.6,"G":-149},{"p":"l","s":"a1","R":20.75,"G":-65},{"p":"l","s":"a1","R":21.9,"G":-129},{"p":"l","s":"a1","R":23.05,"G":-193},{"p":"l","s":"a1","R":24.2,"G":-144},{"p":"l","s":"a1","R":25.35,"G":-95},{"p":"l","s":"a1","R":26.55,"G":-131},{"p":"l","s":"a1","R":27.75,"G":-167},{"p":"l","s":"a1","R":28.73,"G":-145},{"p":"l","s":"a1","R":29.7,"G":-122},
{"p":"l","s":"b1","R":0.2,"G":0},{"p":"l","s":"b1","R":1.5,"G":-8},{"p":"l","s":"b1","R":2.5,"G":-45},{"p":"l","s":"b1","R":3.3,"G":-150},{"p":"l","s":"b1","R":4.2,"G":-350},{"p":"l","s":"b1","R":4.85,"G":-449},{"p":"l","s":"b1","R":5.68,"G":-172},{"p":"l","s":"b1","R":6.5,"G":105},{"p":"l","s":"b1","R":7.85,"G":-128},{"p":"l","s":"b1","R":9.2,"G":-360},{"p":"l","s":"b1","R":10.35,"G":-155},{"p":"l","s":"b1","R":11.5,"G":51},{"p":"l","s":"b1","R":12.65,"G":-122},{"p":"l","s":"b1","R":13.8,"G":-295},{"p":"l","s":"b1","R":14.95,"G":-154},{"p":"l","s":"b1","R":16.1,"G":-12},{"p":"l","s":"b1","R":17.28,"G":-117},{"p":"l","s":"b1","R":18.45,"G":-222},{"p":"l","s":"b1","R":19.6,"G":-136},{"p":"l","s":"b1","R":20.75,"G":-50},{"p":"l","s":"b1","R":21.9,"G":-110},{"p":"l","s":"b1","R":23.05,"G":-170},{"p":"l","s":"b1","R":24.2,"G":-118},{"p":"l","s":"b1","R":25.35,"G":-65},{"p":"l","s":"b1","R":26.55,"G":-94},{"p":"l","s":"b1","R":27.75,"G":-122},{"p":"l","s":"b1","R":28.73,"G":-95},{"p":"l","s":"b1","R":29.7,"G":-68},
{"p":"m","s":"a1","R":0.2,"G":0},{"p":"m","s":"a1","R":1.5,"G":-8},{"p":"m","s":"a1","R":2.5,"G":-45},{"p":"m","s":"a1","R":3.3,"G":-150},{"p":"m","s":"a1","R":4.2,"G":-350},{"p":"m","s":"a1","R":4.85,"G":-449},{"p":"m","s":"a1","R":5.68,"G":-172},{"p":"m","s":"a1","R":6.5,"G":105},{"p":"m","s":"a1","R":7.85,"G":-128},{"p":"m","s":"a1","R":9.2,"G":-360},{"p":"m","s":"a1","R":10.35,"G":-155},{"p":"m","s":"a1","R":11.5,"G":50},{"p":"m","s":"a1","R":12.65,"G":-124},{"p":"m","s":"a1","R":13.8,"G":-297},{"p":"m","s":"a1","R":14.95,"G":-156},{"p":"m","s":"a1","R":16.1,"G":-15},{"p":"m","s":"a1","R":17.28,"G":-126},{"p":"m","s":"a1","R":18.45,"G":-236},{"p":"m","s":"a1","R":19.6,"G":-151},{"p":"m","s":"a1","R":20.75,"G":-65},{"p":"m","s":"a1","R":21.9,"G":-129},{"p":"m","s":"a1","R":23.05,"G":-192},{"p":"m","s":"a1","R":24.2,"G":-144},{"p":"m","s":"a1","R":25.35,"G":-96},{"p":"m","s":"a1","R":26.55,"G":-130},{"p":"m","s":"a1","R":27.75,"G":-163},{"p":"m","s":"a1","R":28.73,"G":-140},{"p":"m","s":"a1","R":29.7,"G":-117},
{"p":"m","s":"b1","R":0.2,"G":0},{"p":"m","s":"b1","R":1.5,"G":-8},{"p":"m","s":"b1","R":2.5,"G":-45},{"p":"m","s":"b1","R":3.3,"G":-150},{"p":"m","s":"b1","R":4.2,"G":-350},{"p":"m","s":"b1","R":4.85,"G":-449},{"p":"m","s":"b1","R":5.68,"G":-172},{"p":"m","s":"b1","R":6.5,"G":105},{"p":"m","s":"b1","R":7.85,"G":-128},{"p":"m","s":"b1","R":9.2,"G":-360},{"p":"m","s":"b1","R":10.35,"G":-155},{"p":"m","s":"b1","R":11.5,"G":51},{"p":"m","s":"b1","R":12.65,"G":-122},{"p":"m","s":"b1","R":13.8,"G":-295},{"p":"m","s":"b1","R":14.95,"G":-152},{"p":"m","s":"b1","R":16.1,"G":-9},{"p":"m","s":"b1","R":17.28,"G":-116},{"p":"m","s":"b1","R":18.45,"G":-222},{"p":"m","s":"b1","R":19.6,"G":-136},{"p":"m","s":"b1","R":20.75,"G":-50},{"p":"m","s":"b1","R":21.9,"G":-112},{"p":"m","s":"b1","R":23.05,"G":-174},{"p":"m","s":"b1","R":24.2,"G":-121},{"p":"m","s":"b1","R":25.35,"G":-68},{"p":"m","s":"b1","R":26.55,"G":-102},{"p":"m","s":"b1","R":27.75,"G":-135},{"p":"m","s":"b1","R":28.73,"G":-107},{"p":"m","s":"b1","R":29.7,"G":-79},
{"p":"n","s":"a1","R":0.2,"G":0},{"p":"n","s":"a1","R":1.5,"G":-8},{"p":"n","s":"a1","R":2.5,"G":-45},{"p":"n","s":"a1","R":3.3,"G":-150},{"p":"n","s":"a1","R":4.2,"G":-350},{"p":"n","s":"a1","R":4.85,"G":-449},{"p":"n","s":"a1","R":5.68,"G":-172},{"p":"n","s":"a1","R":6.5,"G":105},{"p":"n","s":"a1","R":7.85,"G":-128},{"p":"n","s":"a1","R":9.2,"G":-360},{"p":"n","s":"a1","R":10.35,"G":-155},{"p":"n","s":"a1","R":11.5,"G":50},{"p":"n","s":"a1","R":12.65,"G":-124},{"p":"n","s":"a1","R":13.8,"G":-297},{"p":"n","s":"a1","R":14.95,"G":-157},{"p":"n","s":"a1","R":16.1,"G":-17},{"p":"n","s":"a1","R":17.28,"G":-126},{"p":"n","s":"a1","R":18.45,"G":-234},{"p":"n","s":"a1","R":19.6,"G":-150},{"p":"n","s":"a1","R":20.75,"G":-66},{"p":"n","s":"a1","R":21.9,"G":-130},{"p":"n","s":"a1","R":23.05,"G":-194},{"p":"n","s":"a1","R":24.2,"G":-144},{"p":"n","s":"a1","R":25.35,"G":-94},{"p":"n","s":"a1","R":26.55,"G":-131},{"p":"n","s":"a1","R":27.75,"G":-167},{"p":"n","s":"a1","R":28.73,"G":-145},{"p":"n","s":"a1","R":29.7,"G":-122},
{"p":"n","s":"b1","R":0.2,"G":0},{"p":"n","s":"b1","R":1.5,"G":-8},{"p":"n","s":"b1","R":2.5,"G":-45},{"p":"n","s":"b1","R":3.3,"G":-150},{"p":"n","s":"b1","R":4.2,"G":-350},{"p":"n","s":"b1","R":4.85,"G":-449},{"p":"n","s":"b1","R":5.68,"G":-172},{"p":"n","s":"b1","R":6.5,"G":105},{"p":"n","s":"b1","R":7.85,"G":-128},{"p":"n","s":"b1","R":9.2,"G":-360},{"p":"n","s":"b1","R":10.35,"G":-154},{"p":"n","s":"b1","R":11.5,"G":52},{"p":"n","s":"b1","R":12.65,"G":-122},{"p":"n","s":"b1","R":13.8,"G":-295},{"p":"n","s":"b1","R":14.95,"G":-152},{"p":"n","s":"b1","R":16.1,"G":-9},{"p":"n","s":"b1","R":17.28,"G":-116},{"p":"n","s":"b1","R":18.45,"G":-222},{"p":"n","s":"b1","R":19.6,"G":-136},{"p":"n","s":"b1","R":20.75,"G":-49},{"p":"n","s":"b1","R":21.9,"G":-110},{"p":"n","s":"b1","R":23.05,"G":-171},{"p":"n","s":"b1","R":24.2,"G":-117},{"p":"n","s":"b1","R":25.35,"G":-63},{"p":"n","s":"b1","R":26.55,"G":-93},{"p":"n","s":"b1","R":27.75,"G":-122},{"p":"n","s":"b1","R":28.73,"G":-95},{"p":"n","s":"b1","R":29.7,"G":-68},
{"p":"o","s":"a1","R":0.2,"G":0},{"p":"o","s":"a1","R":1.5,"G":-8},{"p":"o","s":"a1","R":2.5,"G":-45},{"p":"o","s":"a1","R":3.3,"G":-150},{"p":"o","s":"a1","R":4.2,"G":-350},{"p":"o","s":"a1","R":4.85,"G":-449},{"p":"o","s":"a1","R":5.68,"G":-172},{"p":"o","s":"a1","R":6.5,"G":105},{"p":"o","s":"a1","R":7.85,"G":-128},{"p":"o","s":"a1","R":9.2,"G":-360},{"p":"o","s":"a1","R":10.35,"G":-155},{"p":"o","s":"a1","R":11.5,"G":50},{"p":"o","s":"a1","R":12.65,"G":-124},{"p":"o","s":"a1","R":13.8,"G":-297},{"p":"o","s":"a1","R":14.95,"G":-158},{"p":"o","s":"a1","R":16.1,"G":-19},{"p":"o","s":"a1","R":17.28,"G":-130},{"p":"o","s":"a1","R":18.45,"G":-240},{"p":"o","s":"a1","R":19.6,"G":-155},{"p":"o","s":"a1","R":20.75,"G":-69},{"p":"o","s":"a1","R":21.9,"G":-134},{"p":"o","s":"a1","R":23.05,"G":-199},{"p":"o","s":"a1","R":24.2,"G":-150},{"p":"o","s":"a1","R":25.35,"G":-101},{"p":"o","s":"a1","R":26.55,"G":-138},{"p":"o","s":"a1","R":27.75,"G":-175},{"p":"o","s":"a1","R":28.73,"G":-151},{"p":"o","s":"a1","R":29.7,"G":-126},
{"p":"o","s":"b1","R":0.2,"G":0},{"p":"o","s":"b1","R":1.5,"G":-8},{"p":"o","s":"b1","R":2.5,"G":-45},{"p":"o","s":"b1","R":3.3,"G":-150},{"p":"o","s":"b1","R":4.2,"G":-350},{"p":"o","s":"b1","R":4.85,"G":-449},{"p":"o","s":"b1","R":5.68,"G":-172},{"p":"o","s":"b1","R":6.5,"G":105},{"p":"o","s":"b1","R":7.85,"G":-128},{"p":"o","s":"b1","R":9.2,"G":-360},{"p":"o","s":"b1","R":10.35,"G":-155},{"p":"o","s":"b1","R":11.5,"G":50},{"p":"o","s":"b1","R":12.65,"G":-124},{"p":"o","s":"b1","R":13.8,"G":-297},{"p":"o","s":"b1","R":14.95,"G":-158},{"p":"o","s":"b1","R":16.1,"G":-19},{"p":"o","s":"b1","R":17.28,"G":-129},{"p":"o","s":"b1","R":18.45,"G":-238},{"p":"o","s":"b1","R":19.6,"G":-150},{"p":"o","s":"b1","R":20.75,"G":-62},{"p":"o","s":"b1","R":21.9,"G":-124},{"p":"o","s":"b1","R":23.05,"G":-186},{"p":"o","s":"b1","R":24.2,"G":-134},{"p":"o","s":"b1","R":25.35,"G":-81},{"p":"o","s":"b1","R":26.55,"G":-114},{"p":"o","s":"b1","R":27.75,"G":-147},{"p":"o","s":"b1","R":28.73,"G":-118},{"p":"o","s":"b1","R":29.7,"G":-88},
{"p":"a","s":"a2","G":-219},{"p":"a","s":"b2","G":-298},
{"p":"b","s":"a2","G":-166},{"p":"b","s":"b2","G":-153},
{"p":"c","s":"a2","G":-155},{"p":"c","s":"b2","G":-138},
{"p":"d","s":"a2","G":-150},{"p":"d","s":"b2","G":-136},
{"p":"e","s":"a2","G":-153},{"p":"e","s":"b2","G":-136},
{"p":"f","s":"a2","G":-148},{"p":"f","s":"b2","G":-130},
{"p":"g","s":"a2","G":-150},{"p":"g","s":"b2","G":-137},
{"p":"h","s":"a2","G":-155},{"p":"h","s":"b2","G":-138},
{"p":"i","s":"a2","G":-173},{"p":"i","s":"b2","G":-150},
{"p":"j","s":"a2","G":-277},{"p":"j","s":"b2","G":-306},
{"p":"k","s":"a2","G":-147},{"p":"k","s":"b2","G":-125},
{"p":"l","s":"a2","G":-143},{"p":"l","s":"b2","G":-125},
{"p":"m","s":"a2","G":-144},{"p":"m","s":"b2","G":-128},
{"p":"n","s":"a2","G":-145},{"p":"n","s":"b2","G":-129},
{"p":"o","s":"a2","G":-149},{"p":"o","s":"b2","G":-121}
]},
"columns":3,
"spacing":{"row":1,"column":73},
"bounds":"flush",
"resolve":{"scale":{"x":"independent","y":"independent","color":"shared","strokeDash":"shared"}},
"concat":[
{"width":334,"height":166,"transform":[{"filter":"datum.p=='a'"}],"layer":[
 {"transform":[{"filter":"datum.s=='a1'"}],"mark":"line","encoding":{"x":{"field":"R","type":"quantitative","scale":{"domain":[-1,32.8],"nice":false,"zero":false},"axis":{"values":[0,2.5,5,7.5,10,12.5,15,17.5,20,22.5,25,27.5,30,32.5],"labels":false,"title":null,"tickSize":{"condition":{"test":"datum.value % 5","value":3},"value":6}}},"y":{"field":"G","type":"quantitative","scale":{"domain":[-1990,185],"nice":false,"zero":false},"axis":{"values":[-1950,-1800,-1650,-1500,-1350,-1200,-1050,-900,-750,-600,-450,-300,-150,0,150],"labelExpr":"datum.value % 300 ? '' : ''+datum.value","tickSize":{"condition":{"test":"datum.value % 300","value":3},"value":6},"title":"G₁₁ (R) (Å³)","titleX":-52,"titleY":83,"titleBaseline":"middle"}},
  "color":{"field":"s","type":"nominal","title":null,"scale":{"domain":["a1","a2","b1","b2"],"range":["black","black","red","red"]},"legend":{"labelExpr":"{'a1':'eq.4, N=20,000 LJ particles','b1':'eq.4, N=2,000\u00a0\u00a0\u00a0LJ particles','a2':'Gᵢⱼ∞, N=20,000 LJ particles','b2':'Gᵢⱼ∞, N=2,000\u00a0\u00a0LJ particles'}[datum.label]"}},
  "strokeDash":{"field":"s","type":"nominal","title":null,"scale":{"domain":["a1","a2","b1","b2"],"range":[[1,0],[6,3],[1,0],[6,3]]},"legend":{"labelExpr":"{'a1':'eq.4, N=20,000 LJ particles','b1':'eq.4, N=2,000\u00a0\u00a0\u00a0LJ particles','a2':'Gᵢⱼ∞, N=20,000 LJ particles','b2':'Gᵢⱼ∞, N=2,000\u00a0\u00a0LJ particles'}[datum.label]"}}}},
 {"transform":[{"filter":"datum.s=='b1'"}],"mark":"line","encoding":{"x":{"field":"R","type":"quantitative"},"y":{"field":"G","type":"quantitative","axis":null},"color":{"field":"s","type":"nominal","title":null,"scale":{"domain":["a1","a2","b1","b2"],"range":["black","black","red","red"]}},"strokeDash":{"field":"s","type":"nominal","title":null,"scale":{"domain":["a1","a2","b1","b2"],"range":[[1,0],[6,3],[1,0],[6,3]]}}}},
 {"transform":[{"filter":"datum.s=='a2'||datum.s=='b2'"}],"mark":"rule","encoding":{"y":{"field":"G","type":"quantitative","axis":{"orient":"right","values":[-1950,-1800,-1650,-1500,-1350,-1200,-1050,-900,-750,-600,-450,-300,-150,0,150],"labels":false,"title":null,"tickSize":{"condition":{"test":"datum.value % 300","value":3},"value":6}}},"color":{"field":"s","type":"nominal","title":null,"scale":{"domain":["a1","a2","b1","b2"],"range":["black","black","red","red"]}},"strokeDash":{"field":"s","type":"nominal","title":null,"scale":{"domain":["a1","a2","b1","b2"],"range":[[1,0],[6,3],[1,0],[6,3]]}}}},
 {"transform":[{"filter":"datum.s=='a2'"}],"mark":{"type":"text","style":"xl"},"encoding":{"x":{"datum":32},"y":{"datum":15,"axis":null},"text":{"value":"= 0.05"}}},
 {"transform":[{"filter":"datum.s=='a2'"}],"mark":{"type":"text","style":"xi"},"encoding":{"x":{"datum":32},"y":{"datum":15,"axis":null},"text":{"value":"x₁"}}},
 {"transform":[{"filter":"datum.s=='a2'"}],"mark":{"type":"text","style":"lt"},"encoding":{"x":{"datum":1.5},"y":{"datum":-1662,"axis":null},"text":{"value":"(a)"}}}
],"resolve":{"axis":{"y":"independent"}}},
{"width":334,"height":166,"transform":[{"filter":"datum.p=='f'"}],"layer":[
 {"transform":[{"filter":"datum.s=='b1'"}],"mark":"line","encoding":{"x":{"field":"R","type":"quantitative","scale":{"domain":[-1,32.8],"nice":false,"zero":false},"axis":{"values":[0,2.5,5,7.5,10,12.5,15,17.5,20,22.5,25,27.5,30,32.5],"labels":false,"title":null,"tickSize":{"condition":{"test":"datum.value % 5","value":3},"value":6}}},"y":{"field":"G","type":"quantitative","scale":{"domain":[-478,168],"nice":false,"zero":false},"axis":{"values":[-450,-400,-350,-300,-250,-200,-150,-100,-50,0,50,100,150],"labelExpr":"datum.value % 100 ? '' : ''+datum.value","tickSize":{"condition":{"test":"datum.value % 100","value":3},"value":6},"title":"G₂₂ (R) (Å³)","titleX":-52,"titleY":83,"titleBaseline":"middle"}},"color":{"field":"s","type":"nominal","title":null,"scale":{"domain":["a1","a2","b1","b2"],"range":["black","black","red","red"]}},"strokeDash":{"field":"s","type":"nominal","title":null,"scale":{"domain":["a1","a2","b1","b2"],"range":[[1,0],[6,3],[1,0],[6,3]]}}}},
 {"transform":[{"filter":"datum.s=='a1'"}],"mark":"line","encoding":{"x":{"field":"R","type":"quantitative"},"y":{"field":"G","type":"quantitative","axis":null},"color":{"field":"s","type":"nominal","title":null,"scale":{"domain":["a1","a2","b1","b2"],"range":["black","black","red","red"]}},"strokeDash":{"field":"s","type":"nominal","title":null,"scale":{"domain":["a1","a2","b1","b2"],"range":[[1,0],[6,3],[1,0],[6,3]]}}}},
 {"transform":[{"filter":"datum.s=='a2'||datum.s=='b2'"}],"mark":"rule","encoding":{"y":{"field":"G","type":"quantitative","axis":{"orient":"right","values":[-450,-400,-350,-300,-250,-200,-150,-100,-50,0,50,100,150],"labels":false,"title":null,"tickSize":{"condition":{"test":"datum.value % 100","value":3},"value":6}}},"color":{"field":"s","type":"nominal","title":null,"scale":{"domain":["a1","a2","b1","b2"],"range":["black","black","red","red"]}},"strokeDash":{"field":"s","type":"nominal","title":null,"scale":{"domain":["a1","a2","b1","b2"],"range":[[1,0],[6,3],[1,0],[6,3]]}}}},
 {"transform":[{"filter":"datum.s=='a2'"}],"mark":{"type":"text","style":"xl"},"encoding":{"x":{"datum":32},"y":{"datum":117,"axis":null},"text":{"value":"= 0.05"}}},
 {"transform":[{"filter":"datum.s=='a2'"}],"mark":{"type":"text","style":"xi"},"encoding":{"x":{"datum":32},"y":{"datum":117,"axis":null},"text":{"value":"x₁"}}},
 {"transform":[{"filter":"datum.s=='a2'"}],"mark":{"type":"text","style":"lt"},"encoding":{"x":{"datum":29.9},"y":{"datum":-381,"axis":null},"text":{"value":"(f)"}}}
],"resolve":{"axis":{"y":"independent"}}},
{"width":334,"height":166,"transform":[{"filter":"datum.p=='k'"}],"layer":[
 {"transform":[{"filter":"datum.s=='b1'"}],"mark":"line","encoding":{"x":{"field":"R","type":"quantitative","scale":{"domain":[-1,32.8],"nice":false,"zero":false},"axis":{"values":[0,2.5,5,7.5,10,12.5,15,17.5,20,22.5,25,27.5,30,32.5],"labels":false,"title":null,"tickSize":{"condition":{"test":"datum.value % 5","value":3},"value":6}}},"y":{"field":"G","type":"quantitative","scale":{"domain":[-470,157],"nice":false,"zero":false},"axis":{"values":[-450,-400,-350,-300,-250,-200,-150,-100,-50,0,50,100,150],"labelExpr":"datum.value % 100 ? '' : ''+datum.value","tickSize":{"condition":{"test":"datum.value % 100","value":3},"value":6},"title":"G₁₂ (R) (Å³)","titleX":-52,"titleY":83,"titleBaseline":"middle"}},"color":{"field":"s","type":"nominal","title":null,"scale":{"domain":["a1","a2","b1","b2"],"range":["black","black","red","red"]}},"strokeDash":{"field":"s","type":"nominal","title":null,"scale":{"domain":["a1","a2","b1","b2"],"range":[[1,0],[6,3],[1,0],[6,3]]}}}},
 {"transform":[{"filter":"datum.s=='a1'"}],"mark":"line","encoding":{"x":{"field":"R","type":"quantitative"},"y":{"field":"G","type":"quantitative","axis":null},"color":{"field":"s","type":"nominal","title":null,"scale":{"domain":["a1","a2","b1","b2"],"range":["black","black","red","red"]}},"strokeDash":{"field":"s","type":"nominal","title":null,"scale":{"domain":["a1","a2","b1","b2"],"range":[[1,0],[6,3],[1,0],[6,3]]}}}},
 {"transform":[{"filter":"datum.s=='a2'||datum.s=='b2'"}],"mark":"rule","encoding":{"y":{"field":"G","type":"quantitative","axis":{"orient":"right","values":[-450,-400,-350,-300,-250,-200,-150,-100,-50,0,50,100,150],"labels":false,"title":null,"tickSize":{"condition":{"test":"datum.value % 100","value":3},"value":6}}},"color":{"field":"s","type":"nominal","title":null,"scale":{"domain":["a1","a2","b1","b2"],"range":["black","black","red","red"]}},"strokeDash":{"field":"s","type":"nominal","title":null,"scale":{"domain":["a1","a2","b1","b2"],"range":[[1,0],[6,3],[1,0],[6,3]]}}}},
 {"transform":[{"filter":"datum.s=='a2'"}],"mark":{"type":"text","style":"xl"},"encoding":{"x":{"datum":32},"y":{"datum":108,"axis":null},"text":{"value":"= 0.05"}}},
 {"transform":[{"filter":"datum.s=='a2'"}],"mark":{"type":"text","style":"xi"},"encoding":{"x":{"datum":32},"y":{"datum":108,"axis":null},"text":{"value":"x₁"}}},
 {"transform":[{"filter":"datum.s=='a2'"}],"mark":{"type":"text","style":"lt"},"encoding":{"x":{"datum":30.7},"y":{"datum":-376,"axis":null},"text":{"value":"(k)"}}}
],"resolve":{"axis":{"y":"independent"}}},
{"width":334,"height":166,"transform":[{"filter":"datum.p=='b'"}],"layer":[
 {"transform":[{"filter":"datum.s=='b1'"}],"mark":"line","encoding":{"x":{"field":"R","type":"quantitative","scale":{"domain":[-1,32.8],"nice":false,"zero":false},"axis":{"values":[0,2.5,5,7.5,10,12.5,15,17.5,20,22.5,25,27.5,30,32.5],"labels":false,"title":null,"tickSize":{"condition":{"test":"datum.value % 5","value":3},"value":6}}},"y":{"field":"G","type":"quantitative","scale":{"domain":[-550,248],"nice":false,"zero":false},"axis":{"values":[-550,-500,-450,-400,-350,-300,-250,-200,-150,-100,-50,0,50,100,150,200],"labelExpr":"datum.value % 100 ? '' : ''+datum.value","tickSize":{"condition":{"test":"datum.value % 100","value":3},"value":6},"title":"G₁₁ (R) (Å³)","titleX":-52,"titleY":83,"titleBaseline":"middle"}},"color":{"field":"s","type":"nominal","title":null,"scale":{"domain":["a1","a2","b1","b2"],"range":["black","black","red","red"]}},"strokeDash":{"field":"s","type":"nominal","title":null,"scale":{"domain":["a1","a2","b1","b2"],"range":[[1,0],[6,3],[1,0],[6,3]]}}}},
 {"transform":[{"filter":"datum.s=='a1'"}],"mark":"line","encoding":{"x":{"field":"R","type":"quantitative"},"y":{"field":"G","type":"quantitative","axis":null},"color":{"field":"s","type":"nominal","title":null,"scale":{"domain":["a1","a2","b1","b2"],"range":["black","black","red","red"]}},"strokeDash":{"field":"s","type":"nominal","title":null,"scale":{"domain":["a1","a2","b1","b2"],"range":[[1,0],[6,3],[1,0],[6,3]]}}}},
 {"transform":[{"filter":"datum.s=='a2'||datum.s=='b2'"}],"mark":"rule","encoding":{"y":{"field":"G","type":"quantitative","axis":{"orient":"right","values":[-550,-500,-450,-400,-350,-300,-250,-200,-150,-100,-50,0,50,100,150,200],"labels":false,"title":null,"tickSize":{"condition":{"test":"datum.value % 100","value":3},"value":6}}},"color":{"field":"s","type":"nominal","title":null,"scale":{"domain":["a1","a2","b1","b2"],"range":["black","black","red","red"]}},"strokeDash":{"field":"s","type":"nominal","title":null,"scale":{"domain":["a1","a2","b1","b2"],"range":[[1,0],[6,3],[1,0],[6,3]]}}}},
 {"transform":[{"filter":"datum.s=='a2'"}],"mark":{"type":"text","style":"xl"},"encoding":{"x":{"datum":32},"y":{"datum":186,"axis":null},"text":{"value":"= 0.25"}}},
 {"transform":[{"filter":"datum.s=='a2'"}],"mark":{"type":"text","style":"xi"},"encoding":{"x":{"datum":32},"y":{"datum":186,"axis":null},"text":{"value":"x₁"}}},
 {"transform":[{"filter":"datum.s=='a2'"}],"mark":{"type":"text","style":"lt"},"encoding":{"x":{"datum":25.3},"y":{"datum":-430,"axis":null},"text":{"value":"(b)"}}}
],"resolve":{"axis":{"y":"independent"}}},
{"width":334,"height":166,"transform":[{"filter":"datum.p=='g'"}],"layer":[
 {"transform":[{"filter":"datum.s=='b1'"}],"mark":"line","encoding":{"x":{"field":"R","type":"quantitative","scale":{"domain":[-1,32.8],"nice":false,"zero":false},"axis":{"values":[0,2.5,5,7.5,10,12.5,15,17.5,20,22.5,25,27.5,30,32.5],"labels":false,"title":null,"tickSize":{"condition":{"test":"datum.value % 5","value":3},"value":6}}},"y":{"field":"G","type":"quantitative","scale":{"domain":[-545,203],"nice":false,"zero":false},"axis":{"values":[-500,-450,-400,-350,-300,-250,-200,-150,-100,-50,0,50,100,150,200],"labelExpr":"datum.value % 100 ? '' : ''+datum.value","tickSize":{"condition":{"test":"datum.value % 100","value":3},"value":6},"title":"G₂₂ (R) (Å³)","titleX":-52,"titleY":83,"titleBaseline":"middle"}},"color":{"field":"s","type":"nominal","title":null,"scale":{"domain":["a1","a2","b1","b2"],"range":["black","black","red","red"]}},"strokeDash":{"field":"s","type":"nominal","title":null,"scale":{"domain":["a1","a2","b1","b2"],"range":[[1,0],[6,3],[1,0],[6,3]]}}}},
 {"transform":[{"filter":"datum.s=='a1'"}],"mark":"line","encoding":{"x":{"field":"R","type":"quantitative"},"y":{"field":"G","type":"quantitative","axis":null},"color":{"field":"s","type":"nominal","title":null,"scale":{"domain":["a1","a2","b1","b2"],"range":["black","black","red","red"]}},"strokeDash":{"field":"s","type":"nominal","title":null,"scale":{"domain":["a1","a2","b1","b2"],"range":[[1,0],[6,3],[1,0],[6,3]]}}}},
 {"transform":[{"filter":"datum.s=='a2'||datum.s=='b2'"}],"mark":"rule","encoding":{"y":{"field":"G","type":"quantitative","axis":{"orient":"right","values":[-500,-450,-400,-350,-300,-250,-200,-150,-100,-50,0,50,100,150,200],"labels":false,"title":null,"tickSize":{"condition":{"test":"datum.value % 100","value":3},"value":6}}},"color":{"field":"s","type":"nominal","title":null,"scale":{"domain":["a1","a2","b1","b2"],"range":["black","black","red","red"]}},"strokeDash":{"field":"s","type":"nominal","title":null,"scale":{"domain":["a1","a2","b1","b2"],"range":[[1,0],[6,3],[1,0],[6,3]]}}}},
 {"transform":[{"filter":"datum.s=='a2'"}],"mark":{"type":"text","style":"xl"},"encoding":{"x":{"datum":32},"y":{"datum":144,"axis":null},"text":{"value":"= 0.25"}}},
 {"transform":[{"filter":"datum.s=='a2'"}],"mark":{"type":"text","style":"xi"},"encoding":{"x":{"datum":32},"y":{"datum":144,"axis":null},"text":{"value":"x₁"}}},
 {"transform":[{"filter":"datum.s=='a2'"}],"mark":{"type":"text","style":"lt"},"encoding":{"x":{"datum":30.6},"y":{"datum":-432,"axis":null},"text":{"value":"(g)"}}}
],"resolve":{"axis":{"y":"independent"}}},
{"width":334,"height":166,"transform":[{"filter":"datum.p=='l'"}],"layer":[
 {"transform":[{"filter":"datum.s=='b1'"}],"mark":"line","encoding":{"x":{"field":"R","type":"quantitative","scale":{"domain":[-1,32.8],"nice":false,"zero":false},"axis":{"values":[0,2.5,5,7.5,10,12.5,15,17.5,20,22.5,25,27.5,30,32.5],"labels":false,"title":null,"tickSize":{"condition":{"test":"datum.value % 5","value":3},"value":6}}},"y":{"field":"G","type":"quantitative","scale":{"domain":[-545,203],"nice":false,"zero":false},"axis":{"values":[-500,-450,-400,-350,-300,-250,-200,-150,-100,-50,0,50,100,150,200],"labelExpr":"datum.value % 100 ? '' : ''+datum.value","tickSize":{"condition":{"test":"datum.value % 100","value":3},"value":6},"title":"G₁₂ (R) (Å³)","titleX":-52,"titleY":83,"titleBaseline":"middle"}},"color":{"field":"s","type":"nominal","title":null,"scale":{"domain":["a1","a2","b1","b2"],"range":["black","black","red","red"]}},"strokeDash":{"field":"s","type":"nominal","title":null,"scale":{"domain":["a1","a2","b1","b2"],"range":[[1,0],[6,3],[1,0],[6,3]]}}}},
 {"transform":[{"filter":"datum.s=='a1'"}],"mark":"line","encoding":{"x":{"field":"R","type":"quantitative"},"y":{"field":"G","type":"quantitative","axis":null},"color":{"field":"s","type":"nominal","title":null,"scale":{"domain":["a1","a2","b1","b2"],"range":["black","black","red","red"]}},"strokeDash":{"field":"s","type":"nominal","title":null,"scale":{"domain":["a1","a2","b1","b2"],"range":[[1,0],[6,3],[1,0],[6,3]]}}}},
 {"transform":[{"filter":"datum.s=='a2'||datum.s=='b2'"}],"mark":"rule","encoding":{"y":{"field":"G","type":"quantitative","axis":{"orient":"right","values":[-500,-450,-400,-350,-300,-250,-200,-150,-100,-50,0,50,100,150,200],"labels":false,"title":null,"tickSize":{"condition":{"test":"datum.value % 100","value":3},"value":6}}},"color":{"field":"s","type":"nominal","title":null,"scale":{"domain":["a1","a2","b1","b2"],"range":["black","black","red","red"]}},"strokeDash":{"field":"s","type":"nominal","title":null,"scale":{"domain":["a1","a2","b1","b2"],"range":[[1,0],[6,3],[1,0],[6,3]]}}}},
 {"transform":[{"filter":"datum.s=='a2'"}],"mark":{"type":"text","style":"xl"},"encoding":{"x":{"datum":32},"y":{"datum":144,"axis":null},"text":{"value":"= 0.25"}}},
 {"transform":[{"filter":"datum.s=='a2'"}],"mark":{"type":"text","style":"xi"},"encoding":{"x":{"datum":32},"y":{"datum":144,"axis":null},"text":{"value":"x₁"}}},
 {"transform":[{"filter":"datum.s=='a2'"}],"mark":{"type":"text","style":"lt"},"encoding":{"x":{"datum":30.1},"y":{"datum":-432,"axis":null},"text":{"value":"(l)"}}}
],"resolve":{"axis":{"y":"independent"}}},
{"width":334,"height":166,"transform":[{"filter":"datum.p=='c'"}],"layer":[
 {"transform":[{"filter":"datum.s=='a1'"}],"mark":"line","encoding":{"x":{"field":"R","type":"quantitative","scale":{"domain":[-1,32.8],"nice":false,"zero":false},"axis":{"values":[0,2.5,5,7.5,10,12.5,15,17.5,20,22.5,25,27.5,30,32.5],"labels":false,"title":null,"tickSize":{"condition":{"test":"datum.value % 5","value":3},"value":6}}},"y":{"field":"G","type":"quantitative","scale":{"domain":[-550,150],"nice":false,"zero":false},"axis":{"values":[-550,-500,-450,-400,-350,-300,-250,-200,-150,-100,-50,0,50,100,150],"labelExpr":"datum.value % 100 ? '' : ''+datum.value","tickSize":{"condition":{"test":"datum.value % 100","value":3},"value":6},"title":"G₁₁ (R) (Å³)","titleX":-52,"titleY":83,"titleBaseline":"middle"}},"color":{"field":"s","type":"nominal","title":null,"scale":{"domain":["a1","a2","b1","b2"],"range":["black","black","red","red"]}},"strokeDash":{"field":"s","type":"nominal","title":null,"scale":{"domain":["a1","a2","b1","b2"],"range":[[1,0],[6,3],[1,0],[6,3]]}}}},
 {"transform":[{"filter":"datum.s=='b1'"}],"mark":"line","encoding":{"x":{"field":"R","type":"quantitative"},"y":{"field":"G","type":"quantitative","axis":null},"color":{"field":"s","type":"nominal","title":null,"scale":{"domain":["a1","a2","b1","b2"],"range":["black","black","red","red"]}},"strokeDash":{"field":"s","type":"nominal","title":null,"scale":{"domain":["a1","a2","b1","b2"],"range":[[1,0],[6,3],[1,0],[6,3]]}}}},
 {"transform":[{"filter":"datum.s=='a2'||datum.s=='b2'"}],"mark":"rule","encoding":{"y":{"field":"G","type":"quantitative","axis":{"orient":"right","values":[-550,-500,-450,-400,-350,-300,-250,-200,-150,-100,-50,0,50,100,150],"labels":false,"title":null,"tickSize":{"condition":{"test":"datum.value % 100","value":3},"value":6}}},"color":{"field":"s","type":"nominal","title":null,"scale":{"domain":["a1","a2","b1","b2"],"range":["black","black","red","red"]}},"strokeDash":{"field":"s","type":"nominal","title":null,"scale":{"domain":["a1","a2","b1","b2"],"range":[[1,0],[6,3],[1,0],[6,3]]}}}},
 {"transform":[{"filter":"datum.s=='a2'"}],"mark":{"type":"text","style":"xl"},"encoding":{"x":{"datum":32},"y":{"datum":95,"axis":null},"text":{"value":"= 0.50"}}},
 {"transform":[{"filter":"datum.s=='a2'"}],"mark":{"type":"text","style":"xi"},"encoding":{"x":{"datum":32},"y":{"datum":95,"axis":null},"text":{"value":"x₁"}}},
 {"transform":[{"filter":"datum.s=='a2'"}],"mark":{"type":"text","style":"lt"},"encoding":{"x":{"datum":30.1},"y":{"datum":-445,"axis":null},"text":{"value":"(c)"}}}
],"resolve":{"axis":{"y":"independent"}}},
{"width":334,"height":166,"transform":[{"filter":"datum.p=='h'"}],"layer":[
 {"transform":[{"filter":"datum.s=='b1'"}],"mark":"line","encoding":{"x":{"field":"R","type":"quantitative","scale":{"domain":[-1,32.8],"nice":false,"zero":false},"axis":{"values":[0,2.5,5,7.5,10,12.5,15,17.5,20,22.5,25,27.5,30,32.5],"labels":false,"title":null,"tickSize":{"condition":{"test":"datum.value % 5","value":3},"value":6}}},"y":{"field":"G","type":"quantitative","scale":{"domain":[-548,150],"nice":false,"zero":false},"axis":{"values":[-500,-450,-400,-350,-300,-250,-200,-150,-100,-50,0,50,100,150],"labelExpr":"datum.value % 100 ? '' : ''+datum.value","tickSize":{"condition":{"test":"datum.value % 100","value":3},"value":6},"title":"G₂₂ (R) (Å³)","titleX":-52,"titleY":83,"titleBaseline":"middle"}},"color":{"field":"s","type":"nominal","title":null,"scale":{"domain":["a1","a2","b1","b2"],"range":["black","black","red","red"]}},"strokeDash":{"field":"s","type":"nominal","title":null,"scale":{"domain":["a1","a2","b1","b2"],"range":[[1,0],[6,3],[1,0],[6,3]]}}}},
 {"transform":[{"filter":"datum.s=='a1'"}],"mark":"line","encoding":{"x":{"field":"R","type":"quantitative"},"y":{"field":"G","type":"quantitative","axis":null},"color":{"field":"s","type":"nominal","title":null,"scale":{"domain":["a1","a2","b1","b2"],"range":["black","black","red","red"]}},"strokeDash":{"field":"s","type":"nominal","title":null,"scale":{"domain":["a1","a2","b1","b2"],"range":[[1,0],[6,3],[1,0],[6,3]]}}}},
 {"transform":[{"filter":"datum.s=='a2'||datum.s=='b2'"}],"mark":"rule","encoding":{"y":{"field":"G","type":"quantitative","axis":{"orient":"right","values":[-500,-450,-400,-350,-300,-250,-200,-150,-100,-50,0,50,100,150],"labels":false,"title":null,"tickSize":{"condition":{"test":"datum.value % 100","value":3},"value":6}}},"color":{"field":"s","type":"nominal","title":null,"scale":{"domain":["a1","a2","b1","b2"],"range":["black","black","red","red"]}},"strokeDash":{"field":"s","type":"nominal","title":null,"scale":{"domain":["a1","a2","b1","b2"],"range":[[1,0],[6,3],[1,0],[6,3]]}}}},
 {"transform":[{"filter":"datum.s=='a2'"}],"mark":{"type":"text","style":"xl"},"encoding":{"x":{"datum":32},"y":{"datum":95,"axis":null},"text":{"value":"= 0.50"}}},
 {"transform":[{"filter":"datum.s=='a2'"}],"mark":{"type":"text","style":"xi"},"encoding":{"x":{"datum":32},"y":{"datum":95,"axis":null},"text":{"value":"x₁"}}},
 {"transform":[{"filter":"datum.s=='a2'"}],"mark":{"type":"text","style":"lt"},"encoding":{"x":{"datum":30.6},"y":{"datum":-443,"axis":null},"text":{"value":"(h)"}}}
],"resolve":{"axis":{"y":"independent"}}},
{"width":334,"height":166,"transform":[{"filter":"datum.p=='m'"}],"layer":[
 {"transform":[{"filter":"datum.s=='b1'"}],"mark":"line","encoding":{"x":{"field":"R","type":"quantitative","scale":{"domain":[-1,32.8],"nice":false,"zero":false},"axis":{"values":[0,2.5,5,7.5,10,12.5,15,17.5,20,22.5,25,27.5,30,32.5],"labels":false,"title":null,"tickSize":{"condition":{"test":"datum.value % 5","value":3},"value":6}}},"y":{"field":"G","type":"quantitative","scale":{"domain":[-548,150],"nice":false,"zero":false},"axis":{"values":[-500,-450,-400,-350,-300,-250,-200,-150,-100,-50,0,50,100,150],"labelExpr":"datum.value % 100 ? '' : ''+datum.value","tickSize":{"condition":{"test":"datum.value % 100","value":3},"value":6},"title":"G₁₂ (R) (Å³)","titleX":-52,"titleY":83,"titleBaseline":"middle"}},"color":{"field":"s","type":"nominal","title":null,"scale":{"domain":["a1","a2","b1","b2"],"range":["black","black","red","red"]}},"strokeDash":{"field":"s","type":"nominal","title":null,"scale":{"domain":["a1","a2","b1","b2"],"range":[[1,0],[6,3],[1,0],[6,3]]}}}},
 {"transform":[{"filter":"datum.s=='a1'"}],"mark":"line","encoding":{"x":{"field":"R","type":"quantitative"},"y":{"field":"G","type":"quantitative","axis":null},"color":{"field":"s","type":"nominal","title":null,"scale":{"domain":["a1","a2","b1","b2"],"range":["black","black","red","red"]}},"strokeDash":{"field":"s","type":"nominal","title":null,"scale":{"domain":["a1","a2","b1","b2"],"range":[[1,0],[6,3],[1,0],[6,3]]}}}},
 {"transform":[{"filter":"datum.s=='a2'||datum.s=='b2'"}],"mark":"rule","encoding":{"y":{"field":"G","type":"quantitative","axis":{"orient":"right","values":[-500,-450,-400,-350,-300,-250,-200,-150,-100,-50,0,50,100,150],"labels":false,"title":null,"tickSize":{"condition":{"test":"datum.value % 100","value":3},"value":6}}},"color":{"field":"s","type":"nominal","title":null,"scale":{"domain":["a1","a2","b1","b2"],"range":["black","black","red","red"]}},"strokeDash":{"field":"s","type":"nominal","title":null,"scale":{"domain":["a1","a2","b1","b2"],"range":[[1,0],[6,3],[1,0],[6,3]]}}}},
 {"transform":[{"filter":"datum.s=='a2'"}],"mark":{"type":"text","style":"xl"},"encoding":{"x":{"datum":32},"y":{"datum":95,"axis":null},"text":{"value":"= 0.50"}}},
 {"transform":[{"filter":"datum.s=='a2'"}],"mark":{"type":"text","style":"xi"},"encoding":{"x":{"datum":32},"y":{"datum":95,"axis":null},"text":{"value":"x₁"}}},
 {"transform":[{"filter":"datum.s=='a2'"}],"mark":{"type":"text","style":"lt"},"encoding":{"x":{"datum":30.4},"y":{"datum":-443,"axis":null},"text":{"value":"(m)"}}}
],"resolve":{"axis":{"y":"independent"}}},
{"width":334,"height":166,"transform":[{"filter":"datum.p=='d'"}],"layer":[
 {"transform":[{"filter":"datum.s=='a1'"}],"mark":"line","encoding":{"x":{"field":"R","type":"quantitative","scale":{"domain":[-1,32.8],"nice":false,"zero":false},"axis":{"values":[0,2.5,5,7.5,10,12.5,15,17.5,20,22.5,25,27.5,30,32.5],"labels":false,"title":null,"tickSize":{"condition":{"test":"datum.value % 5","value":3},"value":6}}},"y":{"field":"G","type":"quantitative","scale":{"domain":[-520,175],"nice":false,"zero":false},"axis":{"values":[-500,-450,-400,-350,-300,-250,-200,-150,-100,-50,0,50,100,150],"labelExpr":"datum.value % 100 ? '' : ''+datum.value","tickSize":{"condition":{"test":"datum.value % 100","value":3},"value":6},"title":"G₁₁ (R) (Å³)","titleX":-52,"titleY":83,"titleBaseline":"middle"}},"color":{"field":"s","type":"nominal","title":null,"scale":{"domain":["a1","a2","b1","b2"],"range":["black","black","red","red"]}},"strokeDash":{"field":"s","type":"nominal","title":null,"scale":{"domain":["a1","a2","b1","b2"],"range":[[1,0],[6,3],[1,0],[6,3]]}}}},
 {"transform":[{"filter":"datum.s=='b1'"}],"mark":"line","encoding":{"x":{"field":"R","type":"quantitative"},"y":{"field":"G","type":"quantitative","axis":null},"color":{"field":"s","type":"nominal","title":null,"scale":{"domain":["a1","a2","b1","b2"],"range":["black","black","red","red"]}},"strokeDash":{"field":"s","type":"nominal","title":null,"scale":{"domain":["a1","a2","b1","b2"],"range":[[1,0],[6,3],[1,0],[6,3]]}}}},
 {"transform":[{"filter":"datum.s=='a2'||datum.s=='b2'"}],"mark":"rule","encoding":{"y":{"field":"G","type":"quantitative","axis":{"orient":"right","values":[-500,-450,-400,-350,-300,-250,-200,-150,-100,-50,0,50,100,150],"labels":false,"title":null,"tickSize":{"condition":{"test":"datum.value % 100","value":3},"value":6}}},"color":{"field":"s","type":"nominal","title":null,"scale":{"domain":["a1","a2","b1","b2"],"range":["black","black","red","red"]}},"strokeDash":{"field":"s","type":"nominal","title":null,"scale":{"domain":["a1","a2","b1","b2"],"range":[[1,0],[6,3],[1,0],[6,3]]}}}},
 {"transform":[{"filter":"datum.s=='a2'"}],"mark":{"type":"text","style":"xl"},"encoding":{"x":{"datum":32},"y":{"datum":121,"axis":null},"text":{"value":"= 0.75"}}},
 {"transform":[{"filter":"datum.s=='a2'"}],"mark":{"type":"text","style":"xi"},"encoding":{"x":{"datum":32},"y":{"datum":121,"axis":null},"text":{"value":"x₁"}}},
 {"transform":[{"filter":"datum.s=='a2'"}],"mark":{"type":"text","style":"lt"},"encoding":{"x":{"datum":30.2},"y":{"datum":-415,"axis":null},"text":{"value":"(d)"}}}
],"resolve":{"axis":{"y":"independent"}}},
{"width":334,"height":166,"transform":[{"filter":"datum.p=='i'"}],"layer":[
 {"transform":[{"filter":"datum.s=='b1'"}],"mark":"line","encoding":{"x":{"field":"R","type":"quantitative","scale":{"domain":[-1,32.8],"nice":false,"zero":false},"axis":{"values":[0,2.5,5,7.5,10,12.5,15,17.5,20,22.5,25,27.5,30,32.5],"labels":false,"title":null,"tickSize":{"condition":{"test":"datum.value % 5","value":3},"value":6}}},"y":{"field":"G","type":"quantitative","scale":{"domain":[-521,180],"nice":false,"zero":false},"axis":{"values":[-500,-450,-400,-350,-300,-250,-200,-150,-100,-50,0,50,100,150],"labelExpr":"datum.value % 100 ? '' : ''+datum.value","tickSize":{"condition":{"test":"datum.value % 100","value":3},"value":6},"title":"G₂₂ (R) (Å³)","titleX":-52,"titleY":83,"titleBaseline":"middle"}},"color":{"field":"s","type":"nominal","title":null,"scale":{"domain":["a1","a2","b1","b2"],"range":["black","black","red","red"]}},"strokeDash":{"field":"s","type":"nominal","title":null,"scale":{"domain":["a1","a2","b1","b2"],"range":[[1,0],[6,3],[1,0],[6,3]]}}}},
 {"transform":[{"filter":"datum.s=='a1'"}],"mark":"line","encoding":{"x":{"field":"R","type":"quantitative"},"y":{"field":"G","type":"quantitative","axis":null},"color":{"field":"s","type":"nominal","title":null,"scale":{"domain":["a1","a2","b1","b2"],"range":["black","black","red","red"]}},"strokeDash":{"field":"s","type":"nominal","title":null,"scale":{"domain":["a1","a2","b1","b2"],"range":[[1,0],[6,3],[1,0],[6,3]]}}}},
 {"transform":[{"filter":"datum.s=='a2'||datum.s=='b2'"}],"mark":"rule","encoding":{"y":{"field":"G","type":"quantitative","axis":{"orient":"right","values":[-500,-450,-400,-350,-300,-250,-200,-150,-100,-50,0,50,100,150],"labels":false,"title":null,"tickSize":{"condition":{"test":"datum.value % 100","value":3},"value":6}}},"color":{"field":"s","type":"nominal","title":null,"scale":{"domain":["a1","a2","b1","b2"],"range":["black","black","red","red"]}},"strokeDash":{"field":"s","type":"nominal","title":null,"scale":{"domain":["a1","a2","b1","b2"],"range":[[1,0],[6,3],[1,0],[6,3]]}}}},
 {"transform":[{"filter":"datum.s=='a2'"}],"mark":{"type":"text","style":"xl"},"encoding":{"x":{"datum":32},"y":{"datum":125,"axis":null},"text":{"value":"= 0.75"}}},
 {"transform":[{"filter":"datum.s=='a2'"}],"mark":{"type":"text","style":"xi"},"encoding":{"x":{"datum":32},"y":{"datum":125,"axis":null},"text":{"value":"x₁"}}},
 {"transform":[{"filter":"datum.s=='a2'"}],"mark":{"type":"text","style":"lt"},"encoding":{"x":{"datum":21.3},"y":{"datum":-415,"axis":null},"text":{"value":"(i)"}}}
],"resolve":{"axis":{"y":"independent"}}},
{"width":334,"height":166,"transform":[{"filter":"datum.p=='n'"}],"layer":[
 {"transform":[{"filter":"datum.s=='b1'"}],"mark":"line","encoding":{"x":{"field":"R","type":"quantitative","scale":{"domain":[-1,32.8],"nice":false,"zero":false},"axis":{"values":[0,2.5,5,7.5,10,12.5,15,17.5,20,22.5,25,27.5,30,32.5],"labels":false,"title":null,"tickSize":{"condition":{"test":"datum.value % 5","value":3},"value":6}}},"y":{"field":"G","type":"quantitative","scale":{"domain":[-521,180],"nice":false,"zero":false},"axis":{"values":[-500,-450,-400,-350,-300,-250,-200,-150,-100,-50,0,50,100,150],"labelExpr":"datum.value % 100 ? '' : ''+datum.value","tickSize":{"condition":{"test":"datum.value % 100","value":3},"value":6},"title":"G₁₂ (R) (Å³)","titleX":-52,"titleY":83,"titleBaseline":"middle"}},"color":{"field":"s","type":"nominal","title":null,"scale":{"domain":["a1","a2","b1","b2"],"range":["black","black","red","red"]}},"strokeDash":{"field":"s","type":"nominal","title":null,"scale":{"domain":["a1","a2","b1","b2"],"range":[[1,0],[6,3],[1,0],[6,3]]}}}},
 {"transform":[{"filter":"datum.s=='a1'"}],"mark":"line","encoding":{"x":{"field":"R","type":"quantitative"},"y":{"field":"G","type":"quantitative","axis":null},"color":{"field":"s","type":"nominal","title":null,"scale":{"domain":["a1","a2","b1","b2"],"range":["black","black","red","red"]}},"strokeDash":{"field":"s","type":"nominal","title":null,"scale":{"domain":["a1","a2","b1","b2"],"range":[[1,0],[6,3],[1,0],[6,3]]}}}},
 {"transform":[{"filter":"datum.s=='a2'||datum.s=='b2'"}],"mark":"rule","encoding":{"y":{"field":"G","type":"quantitative","axis":{"orient":"right","values":[-500,-450,-400,-350,-300,-250,-200,-150,-100,-50,0,50,100,150],"labels":false,"title":null,"tickSize":{"condition":{"test":"datum.value % 100","value":3},"value":6}}},"color":{"field":"s","type":"nominal","title":null,"scale":{"domain":["a1","a2","b1","b2"],"range":["black","black","red","red"]}},"strokeDash":{"field":"s","type":"nominal","title":null,"scale":{"domain":["a1","a2","b1","b2"],"range":[[1,0],[6,3],[1,0],[6,3]]}}}},
 {"transform":[{"filter":"datum.s=='a2'"}],"mark":{"type":"text","style":"xl"},"encoding":{"x":{"datum":32},"y":{"datum":125,"axis":null},"text":{"value":"= 0.75"}}},
 {"transform":[{"filter":"datum.s=='a2'"}],"mark":{"type":"text","style":"xi"},"encoding":{"x":{"datum":32},"y":{"datum":125,"axis":null},"text":{"value":"x₁"}}},
 {"transform":[{"filter":"datum.s=='a2'"}],"mark":{"type":"text","style":"lt"},"encoding":{"x":{"datum":29.7},"y":{"datum":-415,"axis":null},"text":{"value":"(n)"}}}
],"resolve":{"axis":{"y":"independent"}}},
{"width":334,"height":166,"transform":[{"filter":"datum.p=='e'"}],"layer":[
 {"transform":[{"filter":"datum.s=='b1'"}],"mark":"line","encoding":{"x":{"field":"R","type":"quantitative","scale":{"domain":[-1,32.8],"nice":false,"zero":false},"axis":{"values":[0,2.5,5,7.5,10,12.5,15,17.5,20,22.5,25,27.5,30,32.5],"labelExpr":"datum.value % 5 ? '' : datum.label","title":"R (Å)","tickSize":{"condition":{"test":"datum.value % 5","value":3},"value":6}}},"y":{"field":"G","type":"quantitative","scale":{"domain":[-505,150],"nice":false,"zero":false},"axis":{"values":[-500,-450,-400,-350,-300,-250,-200,-150,-100,-50,0,50,100,150],"labelExpr":"datum.value % 100 ? '' : ''+datum.value","tickSize":{"condition":{"test":"datum.value % 100","value":3},"value":6},"title":"G₁₁ (R) (Å³)","titleX":-52,"titleY":83,"titleBaseline":"middle"}},"color":{"field":"s","type":"nominal","title":null,"scale":{"domain":["a1","a2","b1","b2"],"range":["black","black","red","red"]}},"strokeDash":{"field":"s","type":"nominal","title":null,"scale":{"domain":["a1","a2","b1","b2"],"range":[[1,0],[6,3],[1,0],[6,3]]}}}},
 {"transform":[{"filter":"datum.s=='a1'"}],"mark":"line","encoding":{"x":{"field":"R","type":"quantitative"},"y":{"field":"G","type":"quantitative","axis":null},"color":{"field":"s","type":"nominal","title":null,"scale":{"domain":["a1","a2","b1","b2"],"range":["black","black","red","red"]}},"strokeDash":{"field":"s","type":"nominal","title":null,"scale":{"domain":["a1","a2","b1","b2"],"range":[[1,0],[6,3],[1,0],[6,3]]}}}},
 {"transform":[{"filter":"datum.s=='a2'||datum.s=='b2'"}],"mark":"rule","encoding":{"y":{"field":"G","type":"quantitative","axis":{"orient":"right","values":[-500,-450,-400,-350,-300,-250,-200,-150,-100,-50,0,50,100,150],"labels":false,"title":null,"tickSize":{"condition":{"test":"datum.value % 100","value":3},"value":6}}},"color":{"field":"s","type":"nominal","title":null,"scale":{"domain":["a1","a2","b1","b2"],"range":["black","black","red","red"]}},"strokeDash":{"field":"s","type":"nominal","title":null,"scale":{"domain":["a1","a2","b1","b2"],"range":[[1,0],[6,3],[1,0],[6,3]]}}}},
 {"transform":[{"filter":"datum.s=='a2'"}],"mark":{"type":"text","style":"xl"},"encoding":{"x":{"datum":32},"y":{"datum":99,"axis":null},"text":{"value":"= 0.95"}}},
 {"transform":[{"filter":"datum.s=='a2'"}],"mark":{"type":"text","style":"xi"},"encoding":{"x":{"datum":32},"y":{"datum":99,"axis":null},"text":{"value":"x₁"}}},
 {"transform":[{"filter":"datum.s=='a2'"}],"mark":{"type":"text","style":"lt"},"encoding":{"x":{"datum":30.2},"y":{"datum":-406,"axis":null},"text":{"value":"(e)"}}}
],"resolve":{"axis":{"y":"independent"}}},
{"width":334,"height":166,"transform":[{"filter":"datum.p=='j'"}],"layer":[
 {"transform":[{"filter":"datum.s=='b1'"}],"mark":"line","encoding":{"x":{"field":"R","type":"quantitative","scale":{"domain":[-1,32.8],"nice":false,"zero":false},"axis":{"values":[0,2.5,5,7.5,10,12.5,15,17.5,20,22.5,25,27.5,30,32.5],"labelExpr":"datum.value % 5 ? '' : datum.label","title":"R (Å)","tickSize":{"condition":{"test":"datum.value % 5","value":3},"value":6}}},"y":{"field":"G","type":"quantitative","scale":{"domain":[-1048,150],"nice":false,"zero":false},"axis":{"values":[-1000,-900,-800,-700,-600,-500,-400,-300,-200,-100,0,100],"labelExpr":"datum.value % 200 ? '' : ''+datum.value","tickSize":{"condition":{"test":"datum.value % 200","value":3},"value":6},"title":"G₂₂ (R) (Å³)","titleX":-52,"titleY":83,"titleBaseline":"middle"}},"color":{"field":"s","type":"nominal","title":null,"scale":{"domain":["a1","a2","b1","b2"],"range":["black","black","red","red"]}},"strokeDash":{"field":"s","type":"nominal","title":null,"scale":{"domain":["a1","a2","b1","b2"],"range":[[1,0],[6,3],[1,0],[6,3]]}}}},
 {"transform":[{"filter":"datum.s=='a1'"}],"mark":"line","encoding":{"x":{"field":"R","type":"quantitative"},"y":{"field":"G","type":"quantitative","axis":null},"color":{"field":"s","type":"nominal","title":null,"scale":{"domain":["a1","a2","b1","b2"],"range":["black","black","red","red"]}},"strokeDash":{"field":"s","type":"nominal","title":null,"scale":{"domain":["a1","a2","b1","b2"],"range":[[1,0],[6,3],[1,0],[6,3]]}}}},
 {"transform":[{"filter":"datum.s=='a2'||datum.s=='b2'"}],"mark":"rule","encoding":{"y":{"field":"G","type":"quantitative","axis":{"orient":"right","values":[-1000,-900,-800,-700,-600,-500,-400,-300,-200,-100,0,100],"labels":false,"title":null,"tickSize":{"condition":{"test":"datum.value % 200","value":3},"value":6}}},"color":{"field":"s","type":"nominal","title":null,"scale":{"domain":["a1","a2","b1","b2"],"range":["black","black","red","red"]}},"strokeDash":{"field":"s","type":"nominal","title":null,"scale":{"domain":["a1","a2","b1","b2"],"range":[[1,0],[6,3],[1,0],[6,3]]}}}},
 {"transform":[{"filter":"datum.s=='a2'"}],"mark":{"type":"text","style":"xl"},"encoding":{"x":{"datum":32},"y":{"datum":56,"axis":null},"text":{"value":"= 0.95"}}},
 {"transform":[{"filter":"datum.s=='a2'"}],"mark":{"type":"text","style":"xi"},"encoding":{"x":{"datum":32},"y":{"datum":56,"axis":null},"text":{"value":"x₁"}}},
 {"transform":[{"filter":"datum.s=='a2'"}],"mark":{"type":"text","style":"lt"},"encoding":{"x":{"datum":2.5},"y":{"datum":-868,"axis":null},"text":{"value":"(j)"}}}
],"resolve":{"axis":{"y":"independent"}}},
{"width":334,"height":166,"transform":[{"filter":"datum.p=='o'"}],"layer":[
 {"transform":[{"filter":"datum.s=='b1'"}],"mark":"line","encoding":{"x":{"field":"R","type":"quantitative","scale":{"domain":[-1,32.8],"nice":false,"zero":false},"axis":{"values":[0,2.5,5,7.5,10,12.5,15,17.5,20,22.5,25,27.5,30,32.5],"labelExpr":"datum.value % 5 ? '' : datum.label","title":"R (Å)","tickSize":{"condition":{"test":"datum.value % 5","value":3},"value":6}}},"y":{"field":"G","type":"quantitative","scale":{"domain":[-505,150],"nice":false,"zero":false},"axis":{"values":[-500,-450,-400,-350,-300,-250,-200,-150,-100,-50,0,50,100,150],"labelExpr":"datum.value % 100 ? '' : ''+datum.value","tickSize":{"condition":{"test":"datum.value % 100","value":3},"value":6},"title":"G₁₂ (R) (Å³)","titleX":-52,"titleY":83,"titleBaseline":"middle"}},"color":{"field":"s","type":"nominal","title":null,"scale":{"domain":["a1","a2","b1","b2"],"range":["black","black","red","red"]}},"strokeDash":{"field":"s","type":"nominal","title":null,"scale":{"domain":["a1","a2","b1","b2"],"range":[[1,0],[6,3],[1,0],[6,3]]}}}},
 {"transform":[{"filter":"datum.s=='a1'"}],"mark":"line","encoding":{"x":{"field":"R","type":"quantitative"},"y":{"field":"G","type":"quantitative","axis":null},"color":{"field":"s","type":"nominal","title":null,"scale":{"domain":["a1","a2","b1","b2"],"range":["black","black","red","red"]}},"strokeDash":{"field":"s","type":"nominal","title":null,"scale":{"domain":["a1","a2","b1","b2"],"range":[[1,0],[6,3],[1,0],[6,3]]}}}},
 {"transform":[{"filter":"datum.s=='a2'||datum.s=='b2'"}],"mark":"rule","encoding":{"y":{"field":"G","type":"quantitative","axis":{"orient":"right","values":[-500,-450,-400,-350,-300,-250,-200,-150,-100,-50,0,50,100,150],"labels":false,"title":null,"tickSize":{"condition":{"test":"datum.value % 100","value":3},"value":6}}},"color":{"field":"s","type":"nominal","title":null,"scale":{"domain":["a1","a2","b1","b2"],"range":["black","black","red","red"]}},"strokeDash":{"field":"s","type":"nominal","title":null,"scale":{"domain":["a1","a2","b1","b2"],"range":[[1,0],[6,3],[1,0],[6,3]]}}}},
 {"transform":[{"filter":"datum.s=='a2'"}],"mark":{"type":"text","style":"xl"},"encoding":{"x":{"datum":32},"y":{"datum":99,"axis":null},"text":{"value":"= 0.95"}}},
 {"transform":[{"filter":"datum.s=='a2'"}],"mark":{"type":"text","style":"xi"},"encoding":{"x":{"datum":32},"y":{"datum":99,"axis":null},"text":{"value":"x₁"}}},
 {"transform":[{"filter":"datum.s=='a2'"}],"mark":{"type":"text","style":"lt"},"encoding":{"x":{"datum":29.6},"y":{"datum":-406,"axis":null},"text":{"value":"(o)"}}}
],"resolve":{"axis":{"y":"independent"}}}
],
"config":{
 "view":{"stroke":"black","strokeWidth":1.5},
 "axis":{"grid":false,"domainColor":"black","domainWidth":1.5,"tickColor":"black","tickWidth":1.2,"labelFont":"Liberation Sans","labelFontSize":12,"labelFontWeight":"bold","labelColor":"black","labelPadding":2,"labelOverlap":false,"labelBound":false,"labelFlush":false,"titleFont":"Liberation Serif","titleFontSize":18,"titleFontWeight":"bold","titleColor":"black"},
 "axisX":{"titleFontSize":20,"titlePadding":2},
 "line":{"interpolate":"monotone","strokeWidth":2},
 "rule":{"strokeWidth":2},
 "legend":{"orient":"none","direction":"horizontal","legendX":-35,"legendY":-79,"columns":2,"columnPadding":438,"rowPadding":4,"clipHeight":30,"labelFont":"Liberation Serif","labelFontSize":26.5,"labelFontWeight":"bold","labelColor":"black","labelLimit":700,"labelOffset":6,"symbolType":"stroke","symbolSize":3400,"symbolStrokeWidth":2,"padding":0},
 "style":{
  "xl":{"font":"Liberation Serif","fontSize":15,"fontWeight":"bold","align":"right","baseline":"middle","color":"black"},
  "xi":{"font":"Liberation Serif","fontSize":15,"fontWeight":"bold","fontStyle":"italic","align":"right","baseline":"middle","dx":-42,"color":"black"},
  "lt":{"font":"Lato","fontSize":26,"fontWeight":"bold","align":"center","baseline":"middle","color":"black"}
 }
}
}
